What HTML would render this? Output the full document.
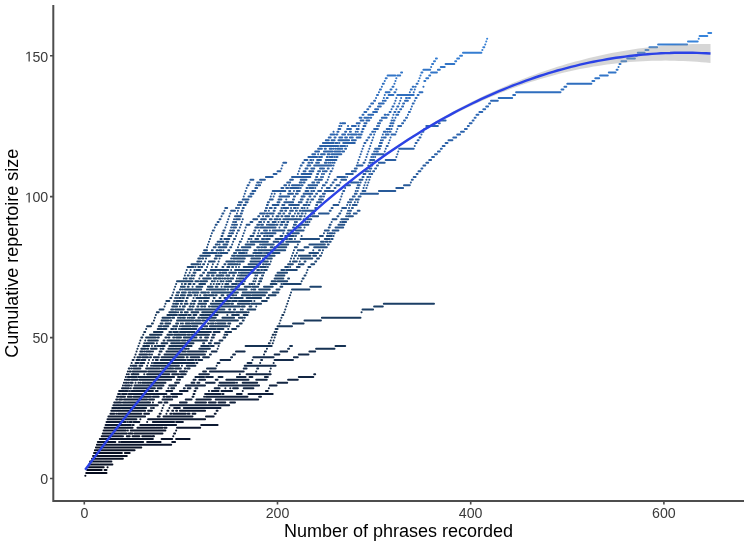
<!DOCTYPE html>
<html><head><meta charset="utf-8"><style>
html,body{margin:0;padding:0;background:#fff;}
svg{display:block;filter:blur(0.45px);}
text{font-family:"Liberation Sans",sans-serif;}
</style></head><body>
<svg width="749" height="544" viewBox="0 0 749 544">
<rect width="749" height="544" fill="#fff"/>
<g fill="none" stroke-width="2.0" stroke-linecap="round">
<path stroke="#060c1e" d="M85.3 475.7h0.1M86.2 472.9h0.1M87.2 470.0h1.0M89.1 467.2h0.1M85.3 475.7h0.1M86.2 472.9h0.1M87.2 470.0h1.9M90.1 467.2h0.1M85.3 475.7h0.1M86.2 472.9h1.0M88.2 470.0h0.1M89.1 467.2h0.1M85.3 475.7h0.1M86.2 472.9h1.9M89.1 470.0h0.1M90.1 467.2h1.0M85.3 475.7h0.1M86.2 472.9h0.1M87.2 470.0h1.0M89.1 467.2h1.0M85.3 475.7h0.1M86.2 472.9h1.0M88.2 470.0h1.9M91.1 467.2h0.1M85.3 475.7h0.1M86.2 472.9h1.0M88.2 470.0h0.1M89.1 467.2h1.0M85.3 475.7h0.1M86.2 472.9h11.6M98.8 470.0h1.0M100.7 467.2h1.0M85.3 475.7h0.1M86.2 472.9h1.0M88.2 470.0h1.0M90.1 467.2h4.8M85.3 475.7h0.1M86.2 472.9h7.7M94.9 470.0h3.9M99.8 467.2h1.0M85.3 475.7h0.1M86.2 472.9h1.0M88.2 470.0h1.0M90.1 467.2h2.9M85.3 475.7h0.1M86.2 472.9h1.0M88.2 470.0h5.8M94.9 467.2h0.1M85.3 475.7h0.1M86.2 472.9h20.3M85.3 475.7h0.1M86.2 472.9h1.9M89.1 470.0h1.0M91.1 467.2h10.6M85.3 475.7h0.1M86.2 472.9h2.9M90.1 470.0h0.1M91.1 467.2h5.8M85.3 475.7h0.1M86.2 472.9h2.9M90.1 470.0h3.9M94.9 467.2h0.1M85.3 475.7h0.1M86.2 472.9h1.0M88.2 470.0h2.9M92.0 467.2h1.9M85.3 475.7h0.1M86.2 472.9h4.8M92.0 470.0h0.1M93.0 467.2h0.1M85.3 475.7h0.1M86.2 472.9h4.8M92.0 470.0h0.1M93.0 467.2h7.7M85.3 475.7h0.1M86.2 472.9h2.9M90.1 470.0h0.1M91.1 467.2h1.0M85.3 475.7h0.1M86.2 472.9h1.0M88.2 470.0h0.1M89.1 467.2h0.1M85.3 475.7h0.1M86.2 472.9h1.9M89.1 470.0h0.1M90.1 467.2h0.1M85.3 475.7h0.1M86.2 472.9h1.0M88.2 470.0h1.0M90.1 467.2h0.1M85.3 475.7h0.1M86.2 472.9h3.9M91.1 470.0h0.1M92.0 467.2h0.1M85.3 475.7h0.1M86.2 472.9h6.8M94.0 470.0h1.0M95.9 467.2h2.9M85.3 475.7h0.1M86.2 472.9h1.9M89.1 470.0h0.1M90.1 467.2h1.0M85.3 475.7h0.1M86.2 472.9h12.6M99.8 470.0h1.9M102.7 467.2h1.0M85.3 475.7h0.1M86.2 472.9h2.9M90.1 470.0h0.1M91.1 467.2h0.1M85.3 475.7h0.1M86.2 472.9h1.0M88.2 470.0h0.1M89.1 467.2h0.1M85.3 475.7h0.1M86.2 472.9h1.0M88.2 470.0h0.1M89.1 467.2h0.1M85.3 475.7h0.1M86.2 472.9h1.0M88.2 470.0h0.1M89.1 467.2h0.1M85.3 475.7h0.1M86.2 472.9h1.9M89.1 470.0h1.0M91.1 467.2h0.1M85.3 475.7h0.1M86.2 472.9h1.0M88.2 470.0h0.1M89.1 467.2h0.1M85.3 475.7h0.1M86.2 472.9h1.9M89.1 470.0h0.1M90.1 467.2h0.1M85.3 475.7h0.1M86.2 472.9h6.8M94.0 470.0h1.0M95.9 467.2h1.0M85.3 475.7h0.1M86.2 472.9h1.0M88.2 470.0h0.1M89.1 467.2h0.1M85.3 475.7h0.1M86.2 472.9h1.0M88.2 470.0h0.1M89.1 467.2h0.1M85.3 475.7h0.1M86.2 472.9h1.0M88.2 470.0h1.9M91.1 467.2h1.0M85.3 475.7h0.1M86.2 472.9h3.9M91.1 470.0h0.1M92.0 467.2h2.9M85.3 475.7h0.1M86.2 472.9h5.8M93.0 470.0h0.1M94.0 467.2h0.1M85.3 475.7h0.1M86.2 472.9h1.0M88.2 470.0h1.9M91.1 467.2h0.1M85.3 475.7h0.1M86.2 472.9h1.0M88.2 470.0h0.1M89.1 467.2h0.1M85.3 475.7h0.1M86.2 472.9h1.0M88.2 470.0h0.1M89.1 467.2h1.9M85.3 475.7h0.1M86.2 472.9h6.8M94.0 470.0h0.1M94.9 467.2h0.1M85.3 475.7h0.1M86.2 472.9h1.0M88.2 470.0h0.1M89.1 467.2h0.1M85.3 475.7h0.1M86.2 472.9h1.0M88.2 470.0h0.1M89.1 467.2h1.9M85.3 475.7h0.1M86.2 472.9h1.0M88.2 470.0h0.1M89.1 467.2h0.1M85.3 475.7h0.1M86.2 472.9h1.9M89.1 470.0h0.1M90.1 467.2h1.9M85.3 475.7h0.1M86.2 472.9h0.1M87.2 470.0h0.1M88.2 467.2h0.1M85.3 475.7h0.1M86.2 472.9h1.0M88.2 470.0h1.0M90.1 467.2h0.1M85.3 475.7h0.1M86.2 472.9h0.1M87.2 470.0h0.1M88.2 467.2h0.1M85.3 475.7h0.1M86.2 472.9h1.0M88.2 470.0h1.0M90.1 467.2h1.0M85.3 475.7h0.1M86.2 472.9h17.4M104.6 470.0h1.9M107.5 467.2h0.1M85.3 475.7h0.1M86.2 472.9h13.5M100.7 470.0h0.1M101.7 467.2h1.9M85.3 475.7h0.1M86.2 472.9h0.1M87.2 470.0h0.1M88.2 467.2h0.1M85.3 475.7h0.1M86.2 472.9h4.8M92.0 470.0h4.8M97.8 467.2h3.9M85.3 475.7h0.1M86.2 472.9h4.8M92.0 470.0h0.1M93.0 467.2h1.0M85.3 475.7h0.1M86.2 472.9h3.9M91.1 470.0h9.7M101.7 467.2h0.1M85.3 475.7h0.1M86.2 472.9h2.9M90.1 470.0h1.0M92.0 467.2h0.1M85.3 475.7h0.1M86.2 472.9h6.8M94.0 470.0h0.1M94.9 467.2h1.9M85.3 475.7h0.1M86.2 472.9h1.0M88.2 470.0h1.0M90.1 467.2h0.1M85.3 475.7h0.1M86.2 472.9h2.9M90.1 470.0h0.1M91.1 467.2h1.9M85.3 475.7h0.1M86.2 472.9h1.0M88.2 470.0h0.1M89.1 467.2h0.1M85.3 475.7h0.1M86.2 472.9h1.0M88.2 470.0h0.1M89.1 467.2h0.1M85.3 475.7h0.1M86.2 472.9h7.7M94.9 470.0h1.0M96.9 467.2h0.1M85.3 475.7h0.1M86.2 472.9h1.0M88.2 470.0h0.1M89.1 467.2h0.1M85.3 475.7h0.1M86.2 472.9h1.0M88.2 470.0h1.9M91.1 467.2h0.1M85.3 475.7h0.1M86.2 472.9h1.0M88.2 470.0h0.1M89.1 467.2h0.1M85.3 475.7h0.1M86.2 472.9h2.9M90.1 470.0h1.0M92.0 467.2h0.1M85.3 475.7h0.1M86.2 472.9h1.9M89.1 470.0h0.1M90.1 467.2h0.1M85.3 475.7h0.1M86.2 472.9h1.9M89.1 470.0h0.1M90.1 467.2h0.1M85.3 475.7h0.1M86.2 472.9h3.9M91.1 470.0h3.9M95.9 467.2h0.1M85.3 475.7h0.1M86.2 472.9h1.0M88.2 470.0h1.0M90.1 467.2h0.1M85.3 475.7h0.1M86.2 472.9h2.9M90.1 470.0h0.1M91.1 467.2h0.1M85.3 475.7h0.1M86.2 472.9h1.9M89.1 470.0h1.0M91.1 467.2h0.1"/>
<path stroke="#081125" d="M90.1 464.4h1.0M92.0 461.6h1.0M94.0 458.8h1.0M95.9 455.9h1.0M97.8 453.1h1.9M100.7 450.3h1.9M103.6 447.5h0.1M91.1 464.4h2.9M94.9 461.6h1.9M97.8 458.8h2.9M101.7 455.9h0.1M102.7 453.1h0.1M103.6 450.3h0.1M104.6 447.5h0.1M90.1 464.4h1.9M93.0 461.6h0.1M94.0 458.8h0.1M94.9 455.9h1.0M96.9 453.1h1.0M98.8 450.3h2.9M102.7 447.5h1.0M92.0 464.4h0.1M93.0 461.6h5.8M99.8 458.8h1.9M102.7 455.9h0.1M103.6 453.1h1.0M105.6 450.3h0.1M106.5 447.5h1.9M91.1 464.4h0.1M92.0 461.6h1.0M94.0 458.8h1.9M96.9 455.9h1.0M98.8 453.1h0.1M99.8 450.3h1.0M101.7 447.5h1.0M92.0 464.4h1.9M94.9 461.6h1.9M97.8 458.8h2.9M101.7 455.9h2.9M105.6 453.1h3.9M110.4 450.3h2.9M114.2 447.5h2.9M91.1 464.4h1.0M93.0 461.6h3.9M97.8 458.8h0.1M98.8 455.9h1.0M100.7 453.1h3.9M105.6 450.3h2.9M109.4 447.5h0.1M102.7 464.4h1.0M104.6 461.6h0.1M105.6 458.8h1.9M108.4 455.9h0.1M109.4 453.1h4.8M115.2 450.3h0.1M116.2 447.5h5.8M95.9 464.4h0.1M96.9 461.6h1.0M98.8 458.8h9.7M109.4 455.9h0.1M110.4 453.1h1.0M112.3 450.3h2.9M116.2 447.5h4.8M101.7 464.4h0.1M102.7 461.6h1.0M104.6 458.8h4.8M110.4 455.9h1.0M112.3 453.1h2.9M116.2 450.3h1.0M118.1 447.5h8.7M94.0 464.4h1.9M96.9 461.6h1.0M98.8 458.8h7.7M107.5 455.9h0.1M108.4 453.1h0.1M109.4 450.3h3.9M114.2 447.5h1.9M95.9 464.4h1.0M97.8 461.6h3.9M102.7 458.8h4.8M108.4 455.9h15.5M124.9 453.1h4.8M130.7 450.3h0.1M131.6 447.5h6.8M102.7 464.4h9.7M97.8 464.4h0.1M98.8 461.6h0.1M99.8 458.8h19.3M120.0 455.9h6.8M95.9 464.4h0.1M96.9 461.6h1.0M98.8 458.8h1.9M101.7 455.9h1.9M104.6 453.1h16.4M122.0 450.3h12.6M94.9 464.4h2.9M98.8 461.6h1.9M101.7 458.8h1.0M103.6 455.9h0.1M104.6 453.1h11.6M117.1 450.3h0.1M118.1 447.5h12.6M94.0 464.4h1.9M96.9 461.6h2.9M100.7 458.8h4.8M106.5 455.9h1.0M108.4 453.1h9.7M119.1 450.3h15.5M135.5 447.5h5.8M101.7 464.4h1.0M103.6 461.6h0.1M104.6 458.8h1.0M106.5 455.9h2.9M110.4 453.1h0.1M111.3 450.3h1.9M114.2 447.5h4.8M93.0 464.4h1.0M94.9 461.6h0.1M95.9 458.8h0.1M96.9 455.9h0.1M97.8 453.1h0.1M98.8 450.3h0.1M99.8 447.5h3.9M90.1 464.4h0.1M91.1 461.6h1.0M93.0 458.8h0.1M94.0 455.9h4.8M99.8 453.1h0.1M100.7 450.3h0.1M101.7 447.5h1.0M91.1 464.4h0.1M92.0 461.6h0.1M93.0 458.8h0.1M94.0 455.9h0.1M94.9 453.1h1.0M96.9 450.3h2.9M100.7 447.5h1.9M91.1 464.4h0.1M92.0 461.6h0.1M93.0 458.8h0.1M94.0 455.9h0.1M94.9 453.1h3.9M99.8 450.3h0.1M100.7 447.5h1.9M93.0 464.4h0.1M94.0 461.6h1.0M95.9 458.8h1.0M97.8 455.9h0.1M98.8 453.1h0.1M99.8 450.3h0.1M100.7 447.5h0.1M99.8 464.4h1.9M102.7 461.6h1.0M104.6 458.8h0.1M105.6 455.9h1.0M107.5 453.1h0.1M108.4 450.3h0.1M109.4 447.5h1.0M92.0 464.4h1.9M94.9 461.6h1.0M96.9 458.8h0.1M97.8 455.9h13.5M112.3 453.1h1.9M115.2 450.3h2.9M119.1 447.5h0.1M104.6 464.4h0.1M105.6 461.6h0.1M106.5 458.8h1.9M109.4 455.9h7.7M118.1 453.1h1.9M121.0 450.3h1.9M123.9 447.5h1.0M92.0 464.4h1.0M94.0 461.6h3.9M98.8 458.8h1.0M100.7 455.9h1.0M102.7 453.1h0.1M103.6 450.3h0.1M104.6 447.5h0.1M90.1 464.4h0.1M91.1 461.6h0.1M92.0 458.8h0.1M93.0 455.9h0.1M94.0 453.1h0.1M94.9 450.3h0.1M95.9 447.5h0.1M90.1 464.4h0.1M91.1 461.6h0.1M92.0 458.8h0.1M93.0 455.9h0.1M94.0 453.1h0.1M94.9 450.3h0.1M95.9 447.5h0.1M90.1 464.4h0.1M91.1 461.6h0.1M92.0 458.8h0.1M93.0 455.9h0.1M94.0 453.1h0.1M94.9 450.3h0.1M95.9 447.5h0.1M92.0 464.4h1.0M94.0 461.6h0.1M94.9 458.8h0.1M95.9 455.9h0.1M96.9 453.1h0.1M97.8 450.3h0.1M98.8 447.5h0.1M90.1 464.4h0.1M91.1 461.6h0.1M92.0 458.8h0.1M93.0 455.9h0.1M94.0 453.1h0.1M94.9 450.3h0.1M95.9 447.5h1.9M91.1 464.4h0.1M92.0 461.6h0.1M93.0 458.8h0.1M94.0 455.9h0.1M94.9 453.1h0.1M95.9 450.3h0.1M96.9 447.5h0.1M97.8 464.4h0.1M98.8 461.6h1.0M100.7 458.8h2.9M104.6 455.9h0.1M105.6 453.1h0.1M106.5 450.3h0.1M107.5 447.5h0.1M90.1 464.4h0.1M91.1 461.6h0.1M92.0 458.8h0.1M93.0 455.9h1.9M95.9 453.1h0.1M96.9 450.3h0.1M97.8 447.5h0.1M90.1 464.4h0.1M91.1 461.6h0.1M92.0 458.8h1.0M94.0 455.9h0.1M94.9 453.1h0.1M95.9 450.3h1.0M97.8 447.5h1.9M93.0 464.4h0.1M94.0 461.6h5.8M100.7 458.8h0.1M101.7 455.9h1.9M104.6 453.1h1.0M106.5 450.3h1.0M108.4 447.5h1.0M95.9 464.4h1.0M97.8 461.6h0.1M98.8 458.8h0.1M99.8 455.9h1.9M102.7 453.1h1.0M104.6 450.3h0.1M105.6 447.5h1.0M94.9 464.4h0.1M95.9 461.6h0.1M96.9 458.8h0.1M97.8 455.9h0.1M98.8 453.1h0.1M99.8 450.3h0.1M100.7 447.5h1.0M92.0 464.4h1.0M94.0 461.6h0.1M94.9 458.8h0.1M95.9 455.9h0.1M96.9 453.1h0.1M97.8 450.3h3.9M102.7 447.5h0.1M90.1 464.4h0.1M91.1 461.6h0.1M92.0 458.8h0.1M93.0 455.9h0.1M94.0 453.1h1.0M95.9 450.3h0.1M96.9 447.5h0.1M92.0 464.4h1.0M94.0 461.6h0.1M94.9 458.8h0.1M95.9 455.9h0.1M96.9 453.1h0.1M97.8 450.3h0.1M98.8 447.5h0.1M95.9 464.4h1.0M97.8 461.6h1.0M99.8 458.8h0.1M100.7 455.9h5.8M107.5 453.1h1.9M110.4 450.3h1.0M112.3 447.5h1.0M90.1 464.4h0.1M91.1 461.6h0.1M92.0 458.8h0.1M93.0 455.9h0.1M94.0 453.1h0.1M94.9 450.3h0.1M95.9 447.5h4.8M92.0 464.4h0.1M93.0 461.6h0.1M94.0 458.8h5.8M100.7 455.9h2.9M104.6 453.1h0.1M105.6 450.3h0.1M106.5 447.5h1.0M90.1 464.4h1.0M92.0 461.6h0.1M93.0 458.8h0.1M94.0 455.9h0.1M94.9 453.1h0.1M95.9 450.3h0.1M96.9 447.5h0.1M93.0 464.4h0.1M94.0 461.6h1.9M96.9 458.8h0.1M97.8 455.9h1.0M99.8 453.1h0.1M100.7 450.3h1.0M102.7 447.5h1.9M89.1 464.4h1.0M91.1 461.6h6.8M98.8 458.8h1.0M100.7 455.9h0.1M101.7 453.1h0.1M102.7 450.3h1.9M105.6 447.5h7.7M91.1 464.4h0.1M92.0 461.6h1.9M94.9 458.8h6.8M102.7 455.9h1.0M104.6 453.1h13.5M119.1 450.3h2.9M122.9 447.5h0.1M89.1 464.4h0.1M90.1 461.6h1.0M92.0 458.8h12.6M105.6 455.9h0.1M106.5 453.1h1.9M109.4 450.3h9.7M120.0 447.5h1.9M92.0 464.4h0.1M93.0 461.6h0.1M94.0 458.8h0.1M94.9 455.9h1.9M97.8 453.1h1.9M100.7 450.3h11.6M113.3 447.5h9.7M108.4 464.4h0.1M109.4 461.6h1.0M111.3 458.8h11.6M123.9 455.9h2.9M127.8 453.1h1.0M129.7 450.3h2.9M133.6 447.5h1.0M104.6 464.4h3.9M109.4 461.6h1.0M111.3 458.8h0.1M112.3 455.9h6.8M120.0 453.1h1.9M122.9 450.3h0.1M123.9 447.5h0.1M89.1 464.4h1.0M91.1 461.6h5.8M97.8 458.8h0.1M98.8 455.9h0.1M99.8 453.1h4.8M105.6 450.3h6.8M113.3 447.5h0.1M102.7 464.4h2.9M106.5 461.6h2.9M110.4 458.8h0.1M111.3 455.9h1.0M113.3 453.1h6.8M121.0 450.3h5.8M127.8 447.5h1.0M94.9 464.4h0.1M95.9 461.6h0.1M96.9 458.8h0.1M97.8 455.9h0.1M98.8 453.1h14.5M114.2 450.3h2.9M118.1 447.5h1.0M102.7 464.4h1.0M104.6 461.6h6.8M112.3 458.8h10.6M123.9 455.9h0.1M124.9 453.1h1.0M126.8 450.3h1.9M129.7 447.5h7.7M93.0 464.4h0.1M94.0 461.6h1.0M95.9 458.8h2.9M99.8 455.9h1.0M101.7 453.1h1.9M104.6 450.3h3.9M109.4 447.5h3.9M97.8 464.4h1.0M99.8 461.6h0.1M100.7 458.8h4.8M106.5 455.9h0.1M107.5 453.1h0.1M108.4 450.3h0.1M109.4 447.5h0.1M91.1 464.4h0.1M92.0 461.6h0.1M93.0 458.8h0.1M94.0 455.9h0.1M94.9 453.1h1.0M96.9 450.3h0.1M97.8 447.5h0.1M94.0 464.4h0.1M94.9 461.6h0.1M95.9 458.8h0.1M96.9 455.9h0.1M97.8 453.1h0.1M98.8 450.3h1.0M100.7 447.5h1.0M90.1 464.4h1.0M92.0 461.6h0.1M93.0 458.8h0.1M94.0 455.9h0.1M94.9 453.1h0.1M95.9 450.3h1.0M97.8 447.5h1.0M90.1 464.4h0.1M91.1 461.6h2.9M94.9 458.8h0.1M95.9 455.9h1.0M97.8 453.1h1.0M99.8 450.3h0.1M100.7 447.5h1.0M97.8 464.4h0.1M98.8 461.6h0.1M99.8 458.8h0.1M100.7 455.9h0.1M101.7 453.1h1.0M103.6 450.3h0.1M104.6 447.5h1.9M90.1 464.4h0.1M91.1 461.6h0.1M92.0 458.8h0.1M93.0 455.9h1.9M95.9 453.1h0.1M96.9 450.3h0.1M97.8 447.5h0.1M92.0 464.4h0.1M93.0 461.6h0.1M94.0 458.8h0.1M94.9 455.9h0.1M95.9 453.1h0.1M96.9 450.3h0.1M97.8 447.5h0.1M90.1 464.4h0.1M91.1 461.6h0.1M92.0 458.8h0.1M93.0 455.9h0.1M94.0 453.1h1.0M95.9 450.3h0.1M96.9 447.5h1.9M93.0 464.4h1.9M95.9 461.6h1.0M97.8 458.8h2.9M101.7 455.9h0.1M102.7 453.1h0.1M103.6 450.3h0.1M104.6 447.5h0.1M91.1 464.4h0.1M92.0 461.6h0.1M93.0 458.8h0.1M94.0 455.9h0.1M94.9 453.1h0.1M95.9 450.3h1.9M98.8 447.5h0.1M91.1 464.4h0.1M92.0 461.6h0.1M93.0 458.8h0.1M94.0 455.9h0.1M94.9 453.1h0.1M95.9 450.3h1.0M97.8 447.5h0.1M96.9 464.4h0.1M97.8 461.6h0.1M98.8 458.8h0.1M99.8 455.9h0.1M100.7 453.1h0.1M101.7 450.3h1.9M104.6 447.5h0.1M91.1 464.4h0.1M92.0 461.6h1.0M94.0 458.8h1.0M95.9 455.9h0.1M96.9 453.1h1.0M98.8 450.3h1.9M101.7 447.5h1.9M92.0 464.4h0.1M93.0 461.6h0.1M94.0 458.8h0.1M94.9 455.9h0.1M95.9 453.1h0.1M96.9 450.3h0.1M97.8 447.5h1.0M92.0 464.4h0.1M93.0 461.6h0.1M94.0 458.8h0.1M94.9 455.9h1.0M96.9 453.1h1.9M99.8 450.3h0.1M100.7 447.5h0.1"/>
<path stroke="#0b152c" d="M104.6 444.7h1.0M106.5 441.9h1.0M108.4 439.0h1.9M111.3 436.2h1.0M113.3 433.4h1.0M115.2 430.6h2.9M119.1 427.8h1.0M105.6 444.7h0.1M106.5 441.9h1.0M108.4 439.0h0.1M109.4 436.2h0.1M110.4 433.4h1.0M112.3 430.6h1.0M114.2 427.8h1.0M104.6 444.7h0.1M105.6 441.9h0.1M106.5 439.0h1.0M108.4 436.2h1.0M110.4 433.4h1.0M112.3 430.6h0.1M113.3 427.8h1.0M109.4 444.7h0.1M110.4 441.9h0.1M111.3 439.0h0.1M112.3 436.2h0.1M113.3 433.4h0.1M114.2 430.6h0.1M115.2 427.8h0.1M103.6 444.7h1.0M105.6 441.9h1.0M107.5 439.0h1.9M110.4 436.2h1.0M112.3 433.4h1.0M114.2 430.6h1.9M117.1 427.8h1.0M118.1 444.7h2.9M122.0 441.9h2.9M125.8 439.0h17.4M144.2 436.2h1.9M147.1 433.4h9.7M157.7 430.6h5.8M164.5 427.8h1.0M110.4 444.7h0.1M111.3 441.9h1.9M114.2 439.0h2.9M118.1 436.2h1.9M121.0 433.4h5.8M127.8 430.6h0.1M128.7 427.8h3.9M122.9 444.7h1.0M124.9 441.9h1.0M126.8 439.0h4.8M132.6 436.2h5.8M139.4 433.4h15.5M155.8 430.6h0.1M156.8 427.8h1.9M122.0 444.7h0.1M122.9 441.9h4.8M128.7 439.0h4.8M134.5 436.2h4.8M140.3 433.4h2.9M144.2 430.6h8.7M153.9 427.8h0.1M127.8 444.7h0.1M128.7 441.9h4.8M134.5 439.0h6.8M142.3 436.2h0.1M143.2 433.4h0.1M144.2 430.6h0.1M145.2 427.8h4.8M117.1 444.7h3.9M122.0 441.9h2.9M125.8 439.0h6.8M133.6 436.2h0.1M134.5 433.4h3.9M139.4 430.6h12.6M152.9 427.8h0.1M139.4 444.7h12.6M152.9 441.9h7.7M161.6 439.0h10.6M173.2 436.2h0.1M174.1 433.4h1.0M176.1 430.6h0.1M177.0 427.8h23.2M131.6 444.7h17.4M142.3 444.7h3.9M147.1 441.9h8.7M120.0 444.7h51.2M172.2 441.9h2.9M176.1 439.0h13.5M104.6 444.7h2.9M108.4 441.9h1.0M110.4 439.0h0.1M111.3 436.2h0.1M112.3 433.4h0.1M113.3 430.6h1.0M115.2 427.8h8.7M103.6 444.7h0.1M104.6 441.9h0.1M105.6 439.0h1.0M107.5 436.2h1.0M109.4 433.4h1.9M112.3 430.6h1.9M115.2 427.8h1.9M103.6 444.7h0.1M104.6 441.9h1.0M106.5 439.0h0.1M107.5 436.2h1.0M109.4 433.4h1.0M111.3 430.6h0.1M112.3 427.8h0.1M103.6 444.7h3.9M108.4 441.9h1.9M111.3 439.0h0.1M112.3 436.2h1.0M114.2 433.4h0.1M115.2 430.6h0.1M116.2 427.8h1.0M101.7 444.7h0.1M102.7 441.9h1.9M105.6 439.0h3.9M110.4 436.2h1.9M113.3 433.4h0.1M114.2 430.6h1.9M117.1 427.8h1.0M111.3 444.7h0.1M112.3 441.9h0.1M113.3 439.0h0.1M114.2 436.2h1.0M116.2 433.4h0.1M117.1 430.6h0.1M118.1 427.8h0.1M120.0 444.7h0.1M121.0 441.9h0.1M122.0 439.0h0.1M122.9 436.2h0.1M123.9 433.4h0.1M124.9 430.6h1.0M126.8 427.8h1.9M125.8 444.7h0.1M126.8 441.9h0.1M127.8 439.0h0.1M128.7 436.2h0.1M129.7 433.4h0.1M130.7 430.6h0.1M131.6 427.8h0.1M105.6 444.7h0.1M106.5 441.9h1.0M108.4 439.0h0.1M109.4 436.2h0.1M110.4 433.4h0.1M111.3 430.6h0.1M112.3 427.8h1.9M96.9 444.7h1.9M99.8 441.9h0.1M100.7 439.0h0.1M101.7 436.2h0.1M102.7 433.4h0.1M103.6 430.6h0.1M104.6 427.8h0.1M96.9 444.7h0.1M97.8 441.9h2.9M101.7 439.0h0.1M102.7 436.2h1.0M104.6 433.4h2.9M108.4 430.6h0.1M109.4 427.8h0.1M96.9 444.7h1.0M98.8 441.9h1.0M100.7 439.0h0.1M101.7 436.2h1.0M103.6 433.4h1.9M106.5 430.6h3.9M111.3 427.8h6.8M99.8 444.7h0.1M100.7 441.9h0.1M101.7 439.0h0.1M102.7 436.2h0.1M103.6 433.4h0.1M104.6 430.6h0.1M105.6 427.8h0.1M98.8 444.7h0.1M99.8 441.9h1.9M102.7 439.0h0.1M103.6 436.2h0.1M104.6 433.4h7.7M113.3 430.6h2.9M117.1 427.8h3.9M97.8 444.7h0.1M98.8 441.9h0.1M99.8 439.0h1.0M101.7 436.2h1.0M103.6 433.4h0.1M104.6 430.6h1.9M107.5 427.8h1.9M108.4 444.7h0.1M109.4 441.9h2.9M113.3 439.0h0.1M114.2 436.2h0.1M115.2 433.4h1.0M117.1 430.6h2.9M121.0 427.8h0.1M98.8 444.7h0.1M99.8 441.9h0.1M100.7 439.0h0.1M101.7 436.2h0.1M102.7 433.4h0.1M103.6 430.6h0.1M104.6 427.8h0.1M100.7 444.7h0.1M101.7 441.9h0.1M102.7 439.0h0.1M103.6 436.2h0.1M104.6 433.4h0.1M105.6 430.6h0.1M106.5 427.8h0.1M110.4 444.7h2.9M114.2 441.9h1.0M116.2 439.0h0.1M117.1 436.2h0.1M118.1 433.4h1.0M120.0 430.6h1.9M122.9 427.8h0.1M107.5 444.7h0.1M108.4 441.9h0.1M109.4 439.0h0.1M110.4 436.2h0.1M111.3 433.4h0.1M112.3 430.6h0.1M113.3 427.8h0.1M102.7 444.7h1.0M104.6 441.9h0.1M105.6 439.0h0.1M106.5 436.2h1.0M108.4 433.4h0.1M109.4 430.6h1.0M111.3 427.8h0.1M103.6 444.7h0.1M104.6 441.9h0.1M105.6 439.0h0.1M106.5 436.2h0.1M107.5 433.4h1.0M109.4 430.6h0.1M110.4 427.8h0.1M97.8 444.7h0.1M98.8 441.9h0.1M99.8 439.0h1.0M101.7 436.2h1.9M104.6 433.4h0.1M105.6 430.6h0.1M106.5 427.8h1.9M99.8 444.7h0.1M100.7 441.9h1.0M102.7 439.0h0.1M103.6 436.2h1.0M105.6 433.4h1.0M107.5 430.6h0.1M108.4 427.8h1.0M114.2 444.7h0.1M115.2 441.9h0.1M116.2 439.0h0.1M117.1 436.2h3.9M122.0 433.4h0.1M122.9 430.6h0.1M123.9 427.8h0.1M101.7 444.7h0.1M102.7 441.9h0.1M103.6 439.0h0.1M104.6 436.2h1.0M106.5 433.4h0.1M107.5 430.6h0.1M108.4 427.8h0.1M108.4 444.7h3.9M113.3 441.9h0.1M114.2 439.0h0.1M115.2 436.2h1.0M117.1 433.4h0.1M118.1 430.6h1.0M120.0 427.8h0.1M97.8 444.7h0.1M98.8 441.9h0.1M99.8 439.0h1.0M101.7 436.2h1.0M103.6 433.4h1.0M105.6 430.6h1.0M107.5 427.8h0.1M105.6 444.7h1.0M107.5 441.9h1.0M109.4 439.0h0.1M110.4 436.2h0.1M111.3 433.4h0.1M112.3 430.6h0.1M113.3 427.8h0.1M114.2 444.7h6.8M122.0 441.9h4.8M127.8 439.0h17.4M146.1 436.2h1.9M149.0 433.4h3.9M153.9 430.6h1.0M155.8 427.8h1.0M123.9 444.7h0.1M124.9 441.9h0.1M125.8 439.0h0.1M126.8 436.2h2.9M130.7 433.4h1.9M133.6 430.6h17.4M151.9 427.8h1.0M122.9 444.7h0.1M123.9 441.9h0.1M124.9 439.0h1.0M126.8 436.2h1.0M128.7 433.4h1.9M131.6 430.6h4.8M137.4 427.8h1.9M123.9 444.7h3.9M128.7 441.9h1.9M131.6 439.0h1.0M133.6 436.2h3.9M138.4 433.4h1.0M140.3 430.6h8.7M150.0 427.8h1.0M135.5 444.7h0.1M136.5 441.9h5.8M143.2 439.0h9.7M153.9 436.2h0.1M154.8 433.4h7.7M163.5 430.6h1.9M166.4 427.8h0.1M124.9 444.7h3.9M129.7 441.9h1.0M131.6 439.0h0.1M132.6 436.2h2.9M136.5 433.4h1.9M139.4 430.6h0.1M140.3 427.8h0.1M114.2 444.7h3.9M119.1 441.9h0.1M120.0 439.0h22.2M143.2 436.2h7.7M151.9 433.4h2.9M155.8 430.6h0.1M156.8 427.8h5.8M129.7 444.7h1.0M131.6 441.9h0.1M132.6 439.0h1.9M135.5 436.2h0.1M136.5 433.4h3.9M141.3 430.6h1.0M143.2 427.8h1.9M120.0 444.7h0.1M121.0 441.9h1.0M122.9 439.0h11.6M135.5 436.2h1.9M138.4 433.4h0.1M139.4 430.6h0.1M140.3 427.8h14.5M138.4 444.7h7.7M147.1 441.9h1.9M150.0 439.0h1.0M151.9 436.2h1.9M154.8 433.4h0.1M155.8 430.6h0.1M156.8 427.8h1.0M114.2 444.7h5.8M121.0 441.9h22.2M144.2 439.0h1.9M147.1 436.2h1.9M150.0 433.4h0.1M151.0 430.6h5.8M157.7 427.8h1.9M110.4 444.7h0.1M111.3 441.9h1.0M113.3 439.0h5.8M120.0 436.2h1.9M122.9 433.4h0.1M123.9 430.6h0.1M124.9 427.8h1.0M98.8 444.7h0.1M99.8 441.9h0.1M100.7 439.0h1.0M102.7 436.2h1.0M104.6 433.4h0.1M105.6 430.6h0.1M106.5 427.8h0.1M102.7 444.7h0.1M103.6 441.9h0.1M104.6 439.0h0.1M105.6 436.2h4.8M111.3 433.4h0.1M112.3 430.6h8.7M122.0 427.8h0.1M99.8 444.7h1.9M102.7 441.9h3.9M107.5 439.0h0.1M108.4 436.2h0.1M109.4 433.4h1.0M111.3 430.6h1.0M113.3 427.8h1.0M102.7 444.7h5.8M109.4 441.9h1.0M111.3 439.0h0.1M112.3 436.2h0.1M113.3 433.4h0.1M114.2 430.6h1.9M117.1 427.8h1.0M107.5 444.7h2.9M111.3 441.9h0.1M112.3 439.0h1.9M115.2 436.2h4.8M121.0 433.4h1.0M122.9 430.6h0.1M123.9 427.8h1.0M98.8 444.7h0.1M99.8 441.9h0.1M100.7 439.0h0.1M101.7 436.2h0.1M102.7 433.4h0.1M103.6 430.6h0.1M104.6 427.8h0.1M98.8 444.7h1.0M100.7 441.9h1.0M102.7 439.0h1.0M104.6 436.2h5.8M111.3 433.4h0.1M112.3 430.6h0.1M113.3 427.8h0.1M99.8 444.7h7.7M108.4 441.9h1.0M110.4 439.0h0.1M111.3 436.2h0.1M112.3 433.4h0.1M113.3 430.6h2.9M117.1 427.8h1.0M105.6 444.7h1.9M108.4 441.9h5.8M115.2 439.0h0.1M116.2 436.2h2.9M120.0 433.4h0.1M121.0 430.6h2.9M124.9 427.8h1.0M99.8 444.7h1.0M101.7 441.9h1.0M103.6 439.0h0.1M104.6 436.2h0.1M105.6 433.4h0.1M106.5 430.6h0.1M107.5 427.8h1.0M98.8 444.7h0.1M99.8 441.9h0.1M100.7 439.0h2.9M104.6 436.2h1.0M106.5 433.4h0.1M107.5 430.6h0.1M108.4 427.8h0.1M105.6 444.7h0.1M106.5 441.9h0.1M107.5 439.0h0.1M108.4 436.2h0.1M109.4 433.4h0.1M110.4 430.6h0.1M111.3 427.8h1.9M104.6 444.7h4.8M110.4 441.9h0.1M111.3 439.0h1.0M113.3 436.2h0.1M114.2 433.4h1.0M116.2 430.6h0.1M117.1 427.8h0.1M99.8 444.7h1.0M101.7 441.9h0.1M102.7 439.0h1.0M104.6 436.2h0.1M105.6 433.4h0.1M106.5 430.6h0.1M107.5 427.8h1.0M101.7 444.7h0.1M102.7 441.9h0.1M103.6 439.0h0.1M104.6 436.2h1.9M107.5 433.4h0.1M108.4 430.6h0.1M109.4 427.8h0.1"/>
<path stroke="#0d1a33" d="M121.0 424.9h1.0M122.9 422.1h1.9M125.8 419.3h3.9M130.7 416.5h0.1M131.6 413.7h0.1M132.6 410.8h1.9M116.2 424.9h1.9M119.1 422.1h1.0M121.0 419.3h1.0M122.9 416.5h1.0M124.9 413.7h3.9M129.7 410.8h1.0M115.2 424.9h1.9M118.1 422.1h1.0M120.0 419.3h1.0M122.0 416.5h2.9M125.8 413.7h0.1M126.8 410.8h2.9M116.2 424.9h0.1M117.1 422.1h1.0M119.1 419.3h1.9M122.0 416.5h3.9M126.8 413.7h1.9M129.7 410.8h0.1M119.1 424.9h1.0M121.0 422.1h2.9M124.9 419.3h0.1M125.8 416.5h1.9M128.7 413.7h1.0M130.7 410.8h4.8M166.4 424.9h3.9M171.2 422.1h2.9M175.1 419.3h0.1M176.1 416.5h6.8M183.8 413.7h1.0M185.7 410.8h3.9M133.6 424.9h0.1M134.5 422.1h4.8M140.3 419.3h0.1M141.3 416.5h1.9M144.2 413.7h4.8M150.0 410.8h1.9M159.6 424.9h2.9M163.5 422.1h1.9M166.4 419.3h4.8M172.2 416.5h8.7M181.9 413.7h1.0M183.8 410.8h2.9M154.8 424.9h4.8M160.6 422.1h9.7M171.2 419.3h3.9M176.1 416.5h15.5M192.5 413.7h2.9M196.4 410.8h6.8M151.0 424.9h1.0M152.9 422.1h15.5M169.3 419.3h1.9M172.2 416.5h0.1M173.2 413.7h1.9M176.1 410.8h1.0M153.9 424.9h0.1M154.8 422.1h8.7M164.5 419.3h3.9M169.3 416.5h5.8M176.1 413.7h7.7M184.8 410.8h1.9M201.2 424.9h16.4M124.9 424.9h5.8M131.6 422.1h0.1M132.6 419.3h0.1M133.6 416.5h1.0M135.5 413.7h0.1M136.5 410.8h8.7M118.1 424.9h0.1M119.1 422.1h6.8M126.8 419.3h2.9M130.7 416.5h5.8M137.4 413.7h1.9M140.3 410.8h1.0M113.3 424.9h0.1M114.2 422.1h0.1M115.2 419.3h1.0M117.1 416.5h0.1M118.1 413.7h0.1M119.1 410.8h1.9M118.1 424.9h0.1M119.1 422.1h2.9M122.9 419.3h0.1M123.9 416.5h1.0M125.8 413.7h0.1M126.8 410.8h0.1M119.1 424.9h0.1M120.0 422.1h3.9M124.9 419.3h9.7M135.5 416.5h0.1M136.5 413.7h0.1M137.4 410.8h0.1M119.1 424.9h0.1M120.0 422.1h4.8M125.8 419.3h5.8M132.6 416.5h0.1M133.6 413.7h3.9M138.4 410.8h1.9M129.7 424.9h0.1M130.7 422.1h0.1M131.6 419.3h0.1M132.6 416.5h1.0M134.5 413.7h0.1M135.5 410.8h0.1M132.6 424.9h0.1M133.6 422.1h0.1M134.5 419.3h1.9M137.4 416.5h7.7M146.1 413.7h1.0M148.1 410.8h1.9M115.2 424.9h0.1M116.2 422.1h0.1M117.1 419.3h2.9M121.0 416.5h0.1M122.0 413.7h1.0M123.9 410.8h1.0M105.6 424.9h0.1M106.5 422.1h0.1M107.5 419.3h0.1M108.4 416.5h1.0M110.4 413.7h0.1M111.3 410.8h0.1M110.4 424.9h0.1M111.3 422.1h0.1M112.3 419.3h0.1M113.3 416.5h0.1M114.2 413.7h0.1M115.2 410.8h1.0M119.1 424.9h1.0M121.0 422.1h1.9M123.9 419.3h1.0M125.8 416.5h0.1M126.8 413.7h0.1M127.8 410.8h1.0M106.5 424.9h0.1M107.5 422.1h0.1M108.4 419.3h0.1M109.4 416.5h0.1M110.4 413.7h0.1M111.3 410.8h0.1M122.0 424.9h1.0M123.9 422.1h1.0M125.8 419.3h0.1M126.8 416.5h0.1M127.8 413.7h0.1M128.7 410.8h0.1M110.4 424.9h0.1M111.3 422.1h0.1M112.3 419.3h1.9M115.2 416.5h0.1M116.2 413.7h0.1M117.1 410.8h0.1M122.0 424.9h0.1M122.9 422.1h0.1M123.9 419.3h0.1M124.9 416.5h0.1M125.8 413.7h0.1M126.8 410.8h1.0M105.6 424.9h0.1M106.5 422.1h0.1M107.5 419.3h0.1M108.4 416.5h1.0M110.4 413.7h0.1M111.3 410.8h0.1M107.5 424.9h0.1M108.4 422.1h1.0M110.4 419.3h0.1M111.3 416.5h1.0M113.3 413.7h1.0M115.2 410.8h0.1M123.9 424.9h0.1M124.9 422.1h0.1M125.8 419.3h0.1M126.8 416.5h0.1M127.8 413.7h0.1M128.7 410.8h0.1M114.2 424.9h0.1M115.2 422.1h0.1M116.2 419.3h0.1M117.1 416.5h0.1M118.1 413.7h0.1M119.1 410.8h0.1M112.3 424.9h0.1M113.3 422.1h0.1M114.2 419.3h0.1M115.2 416.5h0.1M116.2 413.7h0.1M117.1 410.8h1.0M111.3 424.9h2.9M115.2 422.1h1.0M117.1 419.3h0.1M118.1 416.5h0.1M119.1 413.7h0.1M120.0 410.8h1.0M109.4 424.9h2.9M113.3 422.1h3.9M118.1 419.3h0.1M119.1 416.5h1.0M121.0 413.7h1.0M122.9 410.8h0.1M110.4 424.9h1.0M112.3 422.1h1.0M114.2 419.3h0.1M115.2 416.5h0.1M116.2 413.7h0.1M117.1 410.8h0.1M124.9 424.9h0.1M125.8 422.1h0.1M126.8 419.3h3.9M131.6 416.5h0.1M132.6 413.7h1.0M134.5 410.8h0.1M109.4 424.9h0.1M110.4 422.1h0.1M111.3 419.3h0.1M112.3 416.5h1.0M114.2 413.7h0.1M115.2 410.8h0.1M121.0 424.9h0.1M122.0 422.1h0.1M122.9 419.3h0.1M123.9 416.5h0.1M124.9 413.7h0.1M125.8 410.8h0.1M108.4 424.9h0.1M109.4 422.1h9.7M120.0 419.3h1.0M122.0 416.5h0.1M122.9 413.7h1.0M124.9 410.8h0.1M114.2 424.9h0.1M115.2 422.1h0.1M116.2 419.3h0.1M117.1 416.5h0.1M118.1 413.7h1.0M120.0 410.8h0.1M157.7 424.9h0.1M158.7 422.1h9.7M169.3 419.3h3.9M174.1 416.5h12.6M187.7 413.7h0.1M188.6 410.8h5.8M153.9 424.9h1.0M155.8 422.1h1.0M157.7 419.3h1.0M159.6 416.5h0.1M160.6 413.7h0.1M161.6 410.8h0.1M140.3 424.9h29.9M171.2 422.1h0.1M172.2 419.3h12.6M185.7 416.5h1.0M187.7 413.7h1.9M190.6 410.8h0.1M151.9 424.9h8.7M161.6 422.1h1.0M163.5 419.3h1.0M165.4 416.5h0.1M166.4 413.7h0.1M167.4 410.8h1.0M167.4 424.9h7.7M176.1 422.1h6.8M183.8 419.3h3.9M188.6 416.5h3.9M193.5 413.7h0.1M194.4 410.8h5.8M141.3 424.9h4.8M147.1 422.1h0.1M148.1 419.3h8.7M157.7 416.5h1.0M159.6 413.7h1.0M161.6 410.8h0.1M163.5 424.9h12.6M177.0 422.1h2.9M180.9 419.3h24.2M206.0 416.5h7.7M214.7 413.7h1.0M216.6 410.8h1.0M146.1 424.9h6.8M153.9 422.1h4.8M159.6 419.3h2.9M163.5 416.5h5.8M170.3 413.7h1.0M172.2 410.8h1.0M155.8 424.9h8.7M165.4 422.1h5.8M172.2 419.3h1.9M175.1 416.5h0.1M176.1 413.7h9.7M186.7 410.8h5.8M158.7 424.9h4.8M164.5 422.1h1.9M167.4 419.3h5.8M174.1 416.5h1.0M176.1 413.7h2.9M179.9 410.8h2.9M160.6 424.9h5.8M167.4 422.1h0.1M168.3 419.3h1.0M170.3 416.5h4.8M176.1 413.7h4.8M181.9 410.8h23.2M126.8 424.9h1.9M129.7 422.1h0.1M130.7 419.3h4.8M136.5 416.5h0.1M137.4 413.7h0.1M138.4 410.8h2.9M107.5 424.9h0.1M108.4 422.1h0.1M109.4 419.3h0.1M110.4 416.5h0.1M111.3 413.7h0.1M112.3 410.8h1.0M122.9 424.9h0.1M123.9 422.1h1.9M126.8 419.3h0.1M127.8 416.5h0.1M128.7 413.7h0.1M129.7 410.8h0.1M115.2 424.9h1.9M118.1 422.1h1.0M120.0 419.3h1.0M122.0 416.5h17.4M140.3 413.7h1.0M142.3 410.8h1.0M119.1 424.9h0.1M120.0 422.1h2.9M123.9 419.3h0.1M124.9 416.5h1.0M126.8 413.7h1.9M129.7 410.8h0.1M125.8 424.9h2.9M129.7 422.1h1.9M132.6 419.3h1.0M134.5 416.5h1.0M136.5 413.7h0.1M137.4 410.8h0.1M105.6 424.9h0.1M106.5 422.1h0.1M107.5 419.3h0.1M108.4 416.5h2.9M112.3 413.7h0.1M113.3 410.8h1.0M114.2 424.9h0.1M115.2 422.1h3.9M120.0 419.3h1.9M122.9 416.5h0.1M123.9 413.7h1.0M125.8 410.8h0.1M119.1 424.9h0.1M120.0 422.1h0.1M121.0 419.3h1.0M122.9 416.5h1.9M125.8 413.7h1.9M128.7 410.8h1.0M126.8 424.9h0.1M127.8 422.1h0.1M128.7 419.3h1.9M131.6 416.5h1.9M134.5 413.7h1.0M136.5 410.8h0.1M109.4 424.9h0.1M110.4 422.1h1.9M113.3 419.3h1.0M115.2 416.5h4.8M121.0 413.7h0.1M122.0 410.8h1.0M109.4 424.9h1.9M112.3 422.1h0.1M113.3 419.3h1.0M115.2 416.5h4.8M121.0 413.7h1.0M122.9 410.8h3.9M114.2 424.9h0.1M115.2 422.1h0.1M116.2 419.3h1.0M118.1 416.5h1.9M121.0 413.7h0.1M122.0 410.8h0.1M118.1 424.9h1.9M121.0 422.1h1.9M123.9 419.3h0.1M124.9 416.5h2.9M128.7 413.7h3.9M133.6 410.8h0.1M109.4 424.9h0.1M110.4 422.1h1.9M113.3 419.3h0.1M114.2 416.5h1.0M116.2 413.7h0.1M117.1 410.8h3.9M110.4 424.9h0.1M111.3 422.1h0.1M112.3 419.3h2.9M116.2 416.5h2.9M120.0 413.7h1.0M122.0 410.8h0.1"/>
<path stroke="#0f1f3a" d="M135.5 408.0h1.9M138.4 405.2h1.9M141.3 402.4h1.0M143.2 399.6h1.9M146.1 396.7h4.8M151.9 393.9h2.9M155.8 391.1h1.9M131.6 408.0h0.1M132.6 405.2h1.0M134.5 402.4h1.0M136.5 399.6h1.0M138.4 396.7h2.9M142.3 393.9h0.1M143.2 391.1h1.9M130.7 408.0h0.1M131.6 405.2h0.1M132.6 402.4h1.0M134.5 399.6h1.9M137.4 396.7h3.9M142.3 393.9h0.1M143.2 391.1h0.1M130.7 408.0h1.0M132.6 405.2h0.1M133.6 402.4h1.9M136.5 399.6h1.9M139.4 396.7h0.1M140.3 393.9h7.7M149.0 391.1h0.1M136.5 408.0h1.0M138.4 405.2h3.9M143.2 402.4h0.1M144.2 399.6h1.0M146.1 396.7h1.9M149.0 393.9h0.1M150.0 391.1h1.9M190.6 408.0h2.9M194.4 405.2h0.1M195.4 402.4h0.1M196.4 399.6h14.5M211.8 396.7h10.6M223.4 393.9h0.1M224.4 391.1h4.8M152.9 408.0h1.0M154.8 405.2h2.9M158.7 402.4h2.9M162.5 399.6h2.9M166.4 396.7h3.9M171.2 393.9h8.7M180.9 391.1h5.8M187.7 408.0h1.0M189.6 405.2h5.8M196.4 402.4h6.8M204.1 399.6h3.9M208.9 396.7h4.8M214.7 393.9h5.8M221.5 391.1h10.6M204.1 408.0h3.9M208.9 402.4h5.8M215.7 399.6h5.8M222.4 396.7h25.1M248.5 393.9h24.2M178.0 408.0h1.9M180.9 405.2h21.3M203.1 402.4h2.9M207.0 399.6h1.0M208.9 396.7h1.0M210.8 393.9h0.1M211.8 391.1h1.9M187.7 408.0h3.9M192.5 405.2h36.7M230.2 402.4h4.8M146.1 408.0h0.1M147.1 405.2h0.1M148.1 402.4h1.0M150.0 399.6h1.9M152.9 396.7h5.8M159.6 393.9h6.8M167.4 391.1h0.1M142.3 408.0h3.9M147.1 405.2h1.9M150.0 402.4h0.1M151.0 399.6h1.9M153.9 396.7h1.0M155.8 393.9h9.7M166.4 391.1h3.9M122.0 408.0h0.1M122.9 405.2h1.0M124.9 402.4h1.0M126.8 399.6h3.9M131.6 396.7h0.1M132.6 393.9h1.9M135.5 391.1h0.1M127.8 408.0h1.0M129.7 405.2h2.9M133.6 402.4h1.9M136.5 399.6h1.0M138.4 396.7h0.1M139.4 393.9h0.1M140.3 391.1h8.7M138.4 408.0h0.1M139.4 405.2h0.1M140.3 402.4h0.1M141.3 399.6h0.1M142.3 396.7h0.1M143.2 393.9h0.1M144.2 391.1h0.1M141.3 408.0h0.1M142.3 405.2h1.0M144.2 402.4h1.0M146.1 399.6h1.0M148.1 396.7h0.1M149.0 393.9h0.1M150.0 391.1h0.1M136.5 408.0h0.1M137.4 405.2h3.9M142.3 402.4h0.1M143.2 399.6h0.1M144.2 396.7h5.8M151.0 393.9h0.1M151.9 391.1h0.1M151.0 408.0h0.1M151.9 405.2h0.1M152.9 402.4h0.1M153.9 399.6h0.1M154.8 396.7h0.1M155.8 393.9h0.1M156.8 391.1h0.1M125.8 408.0h1.9M128.7 405.2h1.0M130.7 402.4h1.9M133.6 399.6h0.1M134.5 396.7h1.0M136.5 393.9h1.0M138.4 391.1h0.1M112.3 408.0h0.1M113.3 405.2h0.1M114.2 402.4h1.0M116.2 399.6h0.1M117.1 396.7h0.1M118.1 393.9h0.1M119.1 391.1h2.9M117.1 408.0h0.1M118.1 405.2h0.1M119.1 402.4h0.1M120.0 399.6h0.1M121.0 396.7h1.0M122.9 393.9h1.0M124.9 391.1h1.9M129.7 408.0h0.1M130.7 405.2h0.1M131.6 402.4h0.1M132.6 399.6h1.0M134.5 396.7h6.8M142.3 393.9h2.9M146.1 391.1h0.1M112.3 408.0h0.1M113.3 405.2h0.1M114.2 402.4h1.0M116.2 399.6h0.1M117.1 396.7h0.1M118.1 393.9h0.1M119.1 391.1h1.9M129.7 408.0h0.1M130.7 405.2h0.1M131.6 402.4h0.1M132.6 399.6h1.0M134.5 396.7h0.1M135.5 393.9h0.1M136.5 391.1h0.1M118.1 408.0h1.0M120.0 405.2h0.1M121.0 402.4h0.1M122.0 399.6h0.1M122.9 396.7h0.1M123.9 393.9h1.0M125.8 391.1h0.1M128.7 408.0h0.1M129.7 405.2h0.1M130.7 402.4h8.7M140.3 399.6h0.1M141.3 396.7h0.1M142.3 393.9h1.9M145.2 391.1h3.9M112.3 408.0h1.0M114.2 405.2h1.0M116.2 402.4h0.1M117.1 399.6h0.1M118.1 396.7h0.1M119.1 393.9h1.0M121.0 391.1h1.9M116.2 408.0h1.0M118.1 405.2h1.0M120.0 402.4h0.1M121.0 399.6h1.0M122.9 396.7h1.0M124.9 393.9h0.1M125.8 391.1h1.0M129.7 408.0h0.1M130.7 405.2h0.1M131.6 402.4h0.1M132.6 399.6h0.1M133.6 396.7h0.1M134.5 393.9h1.0M136.5 391.1h0.1M120.0 408.0h0.1M121.0 405.2h1.0M122.9 402.4h0.1M123.9 399.6h4.8M129.7 396.7h1.0M131.6 393.9h0.1M132.6 391.1h0.1M119.1 408.0h0.1M120.0 405.2h0.1M121.0 402.4h0.1M122.0 399.6h0.1M122.9 396.7h0.1M123.9 393.9h1.0M125.8 391.1h0.1M122.0 408.0h1.0M123.9 405.2h4.8M129.7 402.4h0.1M130.7 399.6h3.9M135.5 396.7h1.0M137.4 393.9h4.8M143.2 391.1h0.1M123.9 408.0h0.1M124.9 405.2h0.1M125.8 402.4h0.1M126.8 399.6h0.1M127.8 396.7h0.1M128.7 393.9h0.1M129.7 391.1h0.1M118.1 408.0h1.0M120.0 405.2h1.9M122.9 402.4h0.1M123.9 399.6h0.1M124.9 396.7h0.1M125.8 393.9h1.0M127.8 391.1h0.1M135.5 408.0h3.9M140.3 405.2h0.1M141.3 402.4h0.1M142.3 399.6h0.1M143.2 396.7h1.0M145.2 393.9h1.9M148.1 391.1h1.0M116.2 408.0h0.1M117.1 405.2h1.0M119.1 402.4h0.1M120.0 399.6h0.1M121.0 396.7h0.1M122.0 393.9h0.1M122.9 391.1h1.0M126.8 408.0h5.8M133.6 405.2h0.1M134.5 402.4h0.1M135.5 399.6h0.1M136.5 396.7h0.1M137.4 393.9h1.9M140.3 391.1h1.0M125.8 408.0h0.1M126.8 405.2h0.1M127.8 402.4h0.1M128.7 399.6h0.1M129.7 396.7h1.0M131.6 393.9h1.0M133.6 391.1h1.0M121.0 408.0h1.0M122.9 405.2h0.1M123.9 402.4h0.1M124.9 399.6h2.9M128.7 396.7h0.1M129.7 393.9h1.0M131.6 391.1h1.9M195.4 408.0h3.9M200.2 405.2h1.0M202.2 402.4h0.1M203.1 399.6h0.1M204.1 396.7h0.1M205.1 393.9h8.7M214.7 391.1h1.9M162.5 408.0h0.1M163.5 405.2h0.1M164.5 402.4h0.1M165.4 399.6h5.8M172.2 396.7h0.1M173.2 393.9h8.7M182.8 391.1h0.1M191.5 408.0h8.7M201.2 405.2h0.1M202.2 402.4h0.1M203.1 399.6h1.9M206.0 396.7h7.7M214.7 393.9h0.1M215.7 391.1h2.9M169.3 408.0h0.1M170.3 405.2h8.7M179.9 402.4h6.8M187.7 399.6h3.9M192.5 396.7h0.1M193.5 393.9h0.1M194.4 391.1h0.1M201.2 408.0h5.8M207.9 405.2h9.7M218.6 402.4h1.0M220.5 399.6h2.9M162.5 408.0h0.1M163.5 405.2h0.1M164.5 402.4h2.9M168.3 399.6h3.9M173.2 396.7h3.9M178.0 393.9h1.0M179.9 391.1h7.7M218.6 408.0h0.1M219.5 405.2h0.1M220.5 402.4h2.9M224.4 399.6h10.6M236.0 396.7h0.1M236.9 393.9h4.8M242.7 391.1h0.1M174.1 408.0h3.9M179.0 405.2h3.9M183.8 402.4h1.0M185.7 399.6h5.8M192.5 396.7h1.0M194.4 393.9h0.1M195.4 391.1h0.1M193.5 408.0h8.7M203.1 405.2h1.0M205.1 402.4h0.1M206.0 399.6h0.1M207.0 396.7h0.1M207.9 393.9h0.1M208.9 391.1h0.1M183.8 408.0h15.5M200.2 405.2h13.5M214.7 402.4h1.0M216.6 399.6h3.9M221.5 396.7h0.1M222.4 393.9h0.1M223.4 391.1h1.0M206.0 408.0h14.5M221.5 405.2h0.1M222.4 402.4h2.9M226.3 399.6h31.9M259.1 396.7h1.9M262.0 393.9h2.9M265.9 391.1h1.9M142.3 408.0h1.0M144.2 405.2h1.0M146.1 402.4h1.9M149.0 399.6h0.1M150.0 396.7h1.0M151.9 393.9h0.1M152.9 391.1h0.1M114.2 408.0h1.0M116.2 405.2h0.1M117.1 402.4h1.9M120.0 399.6h1.9M122.9 396.7h0.1M123.9 393.9h0.1M124.9 391.1h0.1M130.7 408.0h2.9M134.5 405.2h1.9M137.4 402.4h1.9M140.3 399.6h0.1M141.3 396.7h0.1M142.3 393.9h1.9M145.2 391.1h0.1M144.2 408.0h0.1M145.2 405.2h12.6M158.7 402.4h2.9M162.5 399.6h0.1M163.5 396.7h1.0M165.4 393.9h1.0M167.4 391.1h4.8M130.7 408.0h4.8M136.5 405.2h3.9M141.3 402.4h1.9M144.2 399.6h0.1M145.2 396.7h0.1M146.1 393.9h0.1M147.1 391.1h1.0M138.4 408.0h1.9M141.3 405.2h1.0M143.2 402.4h0.1M144.2 399.6h1.0M146.1 396.7h0.1M147.1 393.9h0.1M148.1 391.1h1.0M115.2 408.0h0.1M116.2 405.2h0.1M117.1 402.4h1.0M119.1 399.6h0.1M120.0 396.7h1.0M122.0 393.9h2.9M125.8 391.1h0.1M126.8 408.0h1.9M129.7 405.2h1.9M132.6 402.4h1.9M135.5 399.6h1.0M137.4 396.7h1.0M139.4 393.9h1.0M141.3 391.1h1.0M130.7 408.0h1.9M133.6 405.2h0.1M134.5 402.4h0.1M135.5 399.6h0.1M136.5 396.7h1.0M138.4 393.9h1.0M140.3 391.1h1.9M137.4 408.0h1.0M139.4 405.2h1.0M141.3 402.4h1.0M143.2 399.6h1.0M145.2 396.7h0.1M146.1 393.9h0.1M147.1 391.1h5.8M123.9 408.0h1.0M125.8 405.2h0.1M126.8 402.4h0.1M127.8 399.6h0.1M128.7 396.7h0.1M129.7 393.9h1.9M132.6 391.1h0.1M127.8 408.0h2.9M131.6 405.2h1.0M133.6 402.4h1.0M135.5 399.6h4.8M141.3 396.7h4.8M147.1 393.9h1.0M149.0 391.1h1.9M122.9 408.0h3.9M127.8 405.2h0.1M128.7 402.4h0.1M129.7 399.6h3.9M134.5 396.7h1.0M136.5 393.9h0.1M137.4 391.1h2.9M134.5 408.0h1.9M137.4 405.2h6.8M145.2 402.4h0.1M146.1 399.6h1.0M148.1 396.7h0.1M149.0 393.9h2.9M152.9 391.1h0.1M122.0 408.0h1.0M123.9 405.2h2.9M127.8 402.4h6.8M135.5 399.6h0.1M136.5 396.7h0.1M137.4 393.9h0.1M138.4 391.1h0.1M122.9 408.0h0.1M123.9 405.2h0.1M124.9 402.4h1.0M126.8 399.6h0.1M127.8 396.7h0.1M128.7 393.9h1.9M131.6 391.1h2.9"/>
<path stroke="#122542" d="M158.7 388.3h2.9M162.5 385.5h1.0M164.5 382.7h0.1M165.4 379.8h5.8M172.2 377.0h1.9M175.1 374.2h0.1M176.1 371.4h0.1M146.1 388.3h1.0M148.1 385.5h3.9M152.9 382.7h0.1M153.9 379.8h3.9M158.7 377.0h0.1M159.6 374.2h0.1M160.6 371.4h2.9M144.2 388.3h4.8M150.0 385.5h0.1M151.0 382.7h0.1M151.9 379.8h2.9M155.8 377.0h0.1M156.8 374.2h1.9M159.6 371.4h1.0M150.0 388.3h2.9M153.9 385.5h2.9M157.7 382.7h0.1M158.7 379.8h0.1M159.6 377.0h1.0M161.6 374.2h3.9M166.4 371.4h1.0M152.9 388.3h0.1M153.9 385.5h1.9M156.8 382.7h1.9M159.6 379.8h1.9M162.5 377.0h1.0M164.5 374.2h1.9M167.4 371.4h1.9M230.2 388.3h0.1M231.1 385.5h4.8M236.9 382.7h0.1M237.9 379.8h10.6M249.5 377.0h2.9M253.3 374.2h1.9M256.2 371.4h0.1M187.7 388.3h0.1M188.6 385.5h1.9M191.5 382.7h1.0M193.5 379.8h1.0M195.4 377.0h2.9M199.3 374.2h2.9M203.1 371.4h2.9M233.1 388.3h4.8M238.9 385.5h2.9M242.7 382.7h14.5M258.2 379.8h5.8M264.9 377.0h1.9M267.8 374.2h1.0M269.8 371.4h0.1M214.7 388.3h4.8M220.5 385.5h38.6M168.3 388.3h0.1M169.3 385.5h4.8M175.1 382.7h1.0M177.0 379.8h0.1M178.0 377.0h1.9M180.9 374.2h4.8M186.7 371.4h0.1M171.2 388.3h1.0M173.2 385.5h2.9M177.0 382.7h1.0M179.0 379.8h1.0M180.9 377.0h1.9M183.8 374.2h0.1M184.8 371.4h0.1M136.5 388.3h1.0M138.4 385.5h6.8M146.1 382.7h0.1M147.1 379.8h1.0M149.0 377.0h1.0M151.0 374.2h0.1M151.9 371.4h3.9M150.0 388.3h1.0M151.9 385.5h2.9M155.8 382.7h1.0M157.7 379.8h4.8M163.5 377.0h0.1M164.5 374.2h1.9M167.4 371.4h0.1M145.2 388.3h2.9M149.0 385.5h0.1M150.0 382.7h0.1M151.0 379.8h0.1M151.9 377.0h0.1M152.9 374.2h0.1M153.9 371.4h0.1M151.0 388.3h1.0M152.9 385.5h0.1M153.9 382.7h8.7M163.5 379.8h1.9M166.4 377.0h7.7M175.1 374.2h0.1M176.1 371.4h0.1M152.9 388.3h1.9M155.8 385.5h0.1M156.8 382.7h1.0M158.7 379.8h0.1M159.6 377.0h0.1M160.6 374.2h1.9M163.5 371.4h1.0M157.7 388.3h0.1M158.7 385.5h2.9M162.5 382.7h0.1M163.5 379.8h0.1M164.5 377.0h1.9M167.4 374.2h1.9M170.3 371.4h3.9M139.4 388.3h1.0M141.3 385.5h0.1M142.3 382.7h1.9M145.2 379.8h0.1M146.1 377.0h0.1M147.1 374.2h0.1M148.1 371.4h0.1M122.9 388.3h1.0M124.9 385.5h0.1M125.8 382.7h0.1M126.8 379.8h0.1M127.8 377.0h0.1M128.7 374.2h0.1M129.7 371.4h1.0M127.8 388.3h0.1M128.7 385.5h1.0M130.7 382.7h0.1M131.6 379.8h3.9M136.5 377.0h0.1M137.4 374.2h1.0M139.4 371.4h0.1M147.1 388.3h0.1M148.1 385.5h0.1M149.0 382.7h0.1M150.0 379.8h0.1M151.0 377.0h0.1M151.9 374.2h1.9M154.8 371.4h1.9M122.0 388.3h0.1M122.9 385.5h0.1M123.9 382.7h0.1M124.9 379.8h0.1M125.8 377.0h0.1M126.8 374.2h0.1M127.8 371.4h0.1M137.4 388.3h0.1M138.4 385.5h1.0M140.3 382.7h0.1M141.3 379.8h7.7M150.0 377.0h1.0M151.9 374.2h1.9M154.8 371.4h1.9M126.8 388.3h0.1M127.8 385.5h0.1M128.7 382.7h0.1M129.7 379.8h0.1M130.7 377.0h3.9M135.5 374.2h1.0M137.4 371.4h0.1M150.0 388.3h0.1M151.0 385.5h4.8M156.8 382.7h0.1M157.7 379.8h0.1M158.7 377.0h0.1M159.6 374.2h0.1M160.6 371.4h0.1M123.9 388.3h0.1M124.9 385.5h1.0M126.8 382.7h0.1M127.8 379.8h1.0M129.7 377.0h3.9M134.5 374.2h1.0M136.5 371.4h1.9M127.8 388.3h1.0M129.7 385.5h0.1M130.7 382.7h1.0M132.6 379.8h1.0M134.5 377.0h0.1M135.5 374.2h1.0M137.4 371.4h0.1M137.4 388.3h4.8M143.2 385.5h0.1M144.2 382.7h0.1M145.2 379.8h1.0M147.1 377.0h0.1M148.1 374.2h1.0M150.0 371.4h4.8M133.6 388.3h0.1M134.5 385.5h0.1M135.5 382.7h0.1M136.5 379.8h1.0M138.4 377.0h10.6M150.0 374.2h0.1M151.0 371.4h0.1M126.8 388.3h0.1M127.8 385.5h0.1M128.7 382.7h0.1M129.7 379.8h0.1M130.7 377.0h0.1M131.6 374.2h0.1M132.6 371.4h0.1M144.2 388.3h1.0M146.1 385.5h1.0M148.1 382.7h0.1M149.0 379.8h0.1M150.0 377.0h1.9M152.9 374.2h8.7M162.5 371.4h0.1M130.7 388.3h0.1M131.6 385.5h0.1M132.6 382.7h0.1M133.6 379.8h0.1M134.5 377.0h1.9M137.4 374.2h1.0M139.4 371.4h6.8M128.7 388.3h0.1M129.7 385.5h0.1M130.7 382.7h0.1M131.6 379.8h0.1M132.6 377.0h0.1M133.6 374.2h0.1M134.5 371.4h0.1M150.0 388.3h1.9M152.9 385.5h1.0M154.8 382.7h3.9M159.6 379.8h3.9M164.5 377.0h1.9M167.4 374.2h1.0M169.3 371.4h0.1M124.9 388.3h0.1M125.8 385.5h0.1M126.8 382.7h0.1M127.8 379.8h0.1M128.7 377.0h2.9M132.6 374.2h0.1M133.6 371.4h0.1M142.3 388.3h2.9M146.1 385.5h1.0M148.1 382.7h0.1M149.0 379.8h2.9M152.9 377.0h2.9M156.8 374.2h1.0M158.7 371.4h0.1M135.5 388.3h0.1M136.5 385.5h1.0M138.4 382.7h0.1M139.4 379.8h3.9M144.2 377.0h3.9M149.0 374.2h1.0M151.0 371.4h0.1M134.5 388.3h1.0M136.5 385.5h6.8M144.2 382.7h0.1M145.2 379.8h1.9M148.1 377.0h2.9M151.9 374.2h0.1M152.9 371.4h4.8M217.6 388.3h0.1M218.6 385.5h0.1M219.5 382.7h5.8M226.3 379.8h11.6M238.9 377.0h0.1M239.8 374.2h0.1M240.8 371.4h2.9M183.8 388.3h1.0M185.7 385.5h5.8M192.5 382.7h1.9M195.4 379.8h0.1M196.4 377.0h3.9M201.2 374.2h7.7M209.9 371.4h32.8M219.5 388.3h0.1M220.5 385.5h4.8M226.3 382.7h8.7M236.0 379.8h0.1M236.9 377.0h8.7M246.6 374.2h20.3M195.4 388.3h1.0M197.3 385.5h7.7M206.0 382.7h8.7M215.7 379.8h1.9M218.6 377.0h3.9M188.6 388.3h1.9M191.5 385.5h4.8M197.3 382.7h1.0M199.3 379.8h5.8M206.0 377.0h6.8M243.7 388.3h9.7M254.3 385.5h0.1M255.3 382.7h0.1M256.2 379.8h10.6M267.8 377.0h0.1M268.8 374.2h1.9M196.4 388.3h1.0M198.3 385.5h0.1M199.3 382.7h0.1M200.2 379.8h0.1M201.2 377.0h2.9M205.1 374.2h2.9M225.3 388.3h0.1M268.8 388.3h0.1M269.8 385.5h6.8M277.5 382.7h9.7M288.1 379.8h9.7M298.8 377.0h14.5M314.2 374.2h1.0M153.9 388.3h0.1M154.8 385.5h0.1M155.8 382.7h0.1M156.8 379.8h0.1M157.7 377.0h1.0M159.6 374.2h0.1M160.6 371.4h1.0M125.8 388.3h0.1M126.8 385.5h1.0M128.7 382.7h0.1M129.7 379.8h0.1M130.7 377.0h0.1M131.6 374.2h1.9M134.5 371.4h1.0M146.1 388.3h0.1M147.1 385.5h0.1M148.1 382.7h0.1M149.0 379.8h0.1M150.0 377.0h0.1M151.0 374.2h0.1M151.9 371.4h0.1M173.2 388.3h1.0M175.1 385.5h1.0M177.0 382.7h1.9M179.9 379.8h0.1M180.9 377.0h0.1M181.9 374.2h1.0M183.8 371.4h0.1M149.0 388.3h4.8M154.8 385.5h0.1M155.8 382.7h9.7M166.4 379.8h4.8M172.2 377.0h0.1M173.2 374.2h5.8M179.9 371.4h4.8M150.0 388.3h0.1M151.0 385.5h0.1M151.9 382.7h3.9M156.8 379.8h2.9M160.6 377.0h4.8M166.4 374.2h1.9M169.3 371.4h5.8M126.8 388.3h0.1M127.8 385.5h0.1M128.7 382.7h0.1M129.7 379.8h0.1M130.7 377.0h0.1M131.6 374.2h0.1M132.6 371.4h1.0M143.2 388.3h1.9M146.1 385.5h1.9M149.0 382.7h0.1M150.0 379.8h11.6M162.5 377.0h8.7M172.2 374.2h0.1M173.2 371.4h1.0M143.2 388.3h1.9M146.1 385.5h0.1M147.1 382.7h3.9M151.9 379.8h3.9M156.8 377.0h1.9M159.6 374.2h1.0M161.6 371.4h0.1M153.9 388.3h1.0M155.8 385.5h1.9M158.7 382.7h0.1M159.6 379.8h2.9M163.5 377.0h0.1M164.5 374.2h0.1M165.4 371.4h0.1M133.6 388.3h1.0M135.5 385.5h7.7M144.2 382.7h0.1M145.2 379.8h0.1M146.1 377.0h1.0M148.1 374.2h0.1M149.0 371.4h2.9M151.9 388.3h1.0M153.9 385.5h0.1M154.8 382.7h1.0M156.8 379.8h1.0M158.7 377.0h0.1M159.6 374.2h1.0M161.6 371.4h1.0M141.3 388.3h1.9M144.2 385.5h0.1M145.2 382.7h1.0M147.1 379.8h0.1M148.1 377.0h1.0M150.0 374.2h1.0M151.9 371.4h0.1M153.9 388.3h0.1M154.8 385.5h0.1M155.8 382.7h1.9M158.7 379.8h1.0M160.6 377.0h0.1M161.6 374.2h1.0M163.5 371.4h0.1M139.4 388.3h1.0M141.3 385.5h0.1M142.3 382.7h1.0M144.2 379.8h1.0M146.1 377.0h1.9M149.0 374.2h1.0M151.0 371.4h3.9M135.5 388.3h1.0M137.4 385.5h1.9M140.3 382.7h0.1M141.3 379.8h1.0M143.2 377.0h0.1M144.2 374.2h0.1M145.2 371.4h0.1"/>
<path stroke="#142b4b" d="M177.0 368.6h0.1M178.0 365.7h1.0M179.9 362.9h6.8M187.7 360.1h1.9M190.6 357.3h2.9M194.4 354.5h5.8M201.2 351.6h2.9M164.5 368.6h0.1M165.4 365.7h1.0M167.4 362.9h3.9M172.2 360.1h3.9M177.0 357.3h0.1M178.0 354.5h4.8M183.8 351.6h0.1M161.6 368.6h0.1M162.5 365.7h1.0M164.5 362.9h7.7M173.2 360.1h1.0M175.1 357.3h0.1M176.1 354.5h1.0M178.0 351.6h1.9M168.3 368.6h1.9M171.2 365.7h0.1M172.2 362.9h3.9M177.0 360.1h1.9M179.9 357.3h0.1M180.9 354.5h0.1M181.9 351.6h0.1M170.3 368.6h2.9M174.1 365.7h1.9M177.0 362.9h2.9M180.9 360.1h1.0M182.8 357.3h1.0M184.8 354.5h1.9M187.7 351.6h11.6M257.2 368.6h1.0M259.1 365.7h0.1M260.1 362.9h0.1M261.1 360.1h1.0M263.0 357.3h0.1M264.0 354.5h0.1M264.9 351.6h1.0M207.0 368.6h8.7M216.6 365.7h0.1M217.6 362.9h1.9M220.5 360.1h9.7M231.1 357.3h1.0M233.1 354.5h1.9M236.0 351.6h8.7M270.7 368.6h0.1M271.7 365.7h1.0M273.6 362.9h0.1M274.6 360.1h18.4M293.9 357.3h3.9M298.8 354.5h9.7M309.4 351.6h5.8M187.7 368.6h1.9M190.6 365.7h0.1M191.5 362.9h2.9M195.4 360.1h1.0M197.3 357.3h1.9M200.2 354.5h4.8M206.0 351.6h0.1M185.7 368.6h0.1M186.7 365.7h8.7M196.4 362.9h1.0M198.3 360.1h3.9M203.1 357.3h5.8M209.9 354.5h1.0M211.8 351.6h4.8M156.8 368.6h0.1M157.7 365.7h0.1M158.7 362.9h1.9M161.6 360.1h1.9M164.5 357.3h0.1M165.4 354.5h3.9M170.3 351.6h0.1M168.3 368.6h0.1M169.3 365.7h0.1M170.3 362.9h0.1M171.2 360.1h0.1M172.2 357.3h0.1M173.2 354.5h0.1M174.1 351.6h0.1M154.8 368.6h0.1M155.8 365.7h1.9M158.7 362.9h1.0M160.6 360.1h5.8M167.4 357.3h2.9M171.2 354.5h0.1M172.2 351.6h1.9M177.0 368.6h3.9M181.9 365.7h0.1M182.8 362.9h8.7M192.5 360.1h0.1M193.5 357.3h0.1M194.4 354.5h1.0M196.4 351.6h2.9M165.4 368.6h1.9M168.3 365.7h2.9M172.2 362.9h1.0M174.1 360.1h2.9M178.0 357.3h1.0M179.9 354.5h1.9M182.8 351.6h1.0M175.1 368.6h0.1M176.1 365.7h0.1M177.0 362.9h2.9M180.9 360.1h0.1M181.9 357.3h0.1M182.8 354.5h0.1M183.8 351.6h0.1M149.0 368.6h1.0M151.0 365.7h0.1M151.9 362.9h0.1M152.9 360.1h0.1M153.9 357.3h3.9M158.7 354.5h0.1M159.6 351.6h0.1M131.6 368.6h0.1M132.6 365.7h1.9M135.5 362.9h0.1M136.5 360.1h0.1M137.4 357.3h1.0M139.4 354.5h1.0M141.3 351.6h1.0M140.3 368.6h0.1M141.3 365.7h1.0M143.2 362.9h0.1M144.2 360.1h0.1M145.2 357.3h0.1M146.1 354.5h0.1M147.1 351.6h0.1M157.7 368.6h1.0M159.6 365.7h0.1M160.6 362.9h3.9M165.4 360.1h1.9M168.3 357.3h3.9M173.2 354.5h0.1M174.1 351.6h0.1M128.7 368.6h1.0M130.7 365.7h0.1M131.6 362.9h0.1M132.6 360.1h1.0M134.5 357.3h0.1M135.5 354.5h0.1M136.5 351.6h0.1M157.7 368.6h0.1M158.7 365.7h0.1M159.6 362.9h1.9M162.5 360.1h0.1M163.5 357.3h1.9M166.4 354.5h0.1M167.4 351.6h1.9M138.4 368.6h0.1M139.4 365.7h0.1M140.3 362.9h0.1M141.3 360.1h0.1M142.3 357.3h0.1M143.2 354.5h0.1M144.2 351.6h0.1M161.6 368.6h0.1M162.5 365.7h9.7M173.2 362.9h3.9M178.0 360.1h2.9M181.9 357.3h1.9M184.8 354.5h1.9M187.7 351.6h0.1M139.4 368.6h0.1M140.3 365.7h0.1M141.3 362.9h0.1M142.3 360.1h0.1M143.2 357.3h0.1M144.2 354.5h1.0M146.1 351.6h1.0M138.4 368.6h1.9M141.3 365.7h1.0M143.2 362.9h1.0M145.2 360.1h0.1M146.1 357.3h1.9M149.0 354.5h1.0M151.0 351.6h0.1M155.8 368.6h1.9M158.7 365.7h0.1M159.6 362.9h0.1M160.6 360.1h0.1M161.6 357.3h2.9M165.4 354.5h7.7M174.1 351.6h1.9M151.9 368.6h0.1M152.9 365.7h0.1M153.9 362.9h1.0M155.8 360.1h1.0M157.7 357.3h0.1M158.7 354.5h0.1M159.6 351.6h0.1M133.6 368.6h0.1M134.5 365.7h1.0M136.5 362.9h1.0M138.4 360.1h0.1M139.4 357.3h0.1M140.3 354.5h0.1M141.3 351.6h0.1M163.5 368.6h0.1M164.5 365.7h1.0M166.4 362.9h1.0M168.3 360.1h2.9M172.2 357.3h0.1M173.2 354.5h0.1M174.1 351.6h0.1M147.1 368.6h6.8M154.8 365.7h8.7M164.5 362.9h0.1M165.4 360.1h0.1M166.4 357.3h0.1M167.4 354.5h0.1M168.3 351.6h0.1M135.5 368.6h0.1M136.5 365.7h0.1M137.4 362.9h0.1M138.4 360.1h1.0M140.3 357.3h0.1M141.3 354.5h5.8M148.1 351.6h1.9M170.3 368.6h1.0M172.2 365.7h5.8M179.0 362.9h1.9M181.9 360.1h3.9M186.7 357.3h1.0M188.6 354.5h7.7M197.3 351.6h2.9M134.5 368.6h0.1M135.5 365.7h0.1M136.5 362.9h0.1M137.4 360.1h0.1M138.4 357.3h0.1M139.4 354.5h0.1M140.3 351.6h0.1M159.6 368.6h0.1M160.6 365.7h0.1M161.6 362.9h1.9M164.5 360.1h0.1M165.4 357.3h0.1M166.4 354.5h0.1M167.4 351.6h0.1M151.9 368.6h0.1M152.9 365.7h0.1M153.9 362.9h6.8M161.6 360.1h5.8M168.3 357.3h1.0M170.3 354.5h1.0M172.2 351.6h0.1M158.7 368.6h0.1M159.6 365.7h2.9M163.5 362.9h0.1M164.5 360.1h0.1M165.4 357.3h1.0M167.4 354.5h0.1M168.3 351.6h0.1M244.7 368.6h1.9M247.6 365.7h28.0M243.7 368.6h0.1M244.7 365.7h1.9M247.6 362.9h3.9M252.4 360.1h0.1M253.3 357.3h20.3M274.6 354.5h4.8M280.4 351.6h6.8M162.5 368.6h1.0M164.5 365.7h0.1M165.4 362.9h0.1M166.4 360.1h1.9M169.3 357.3h4.8M175.1 354.5h0.1M176.1 351.6h1.0M136.5 368.6h2.9M140.3 365.7h1.0M142.3 362.9h0.1M143.2 360.1h0.1M144.2 357.3h0.1M145.2 354.5h0.1M146.1 351.6h0.1M152.9 368.6h0.1M153.9 365.7h1.0M155.8 362.9h5.8M162.5 360.1h0.1M163.5 357.3h0.1M164.5 354.5h1.0M166.4 351.6h1.0M184.8 368.6h1.0M186.7 365.7h0.1M187.7 362.9h0.1M188.6 360.1h2.9M192.5 357.3h0.1M193.5 354.5h5.8M200.2 351.6h3.9M185.7 368.6h0.1M186.7 365.7h1.0M188.6 362.9h1.0M190.6 360.1h2.9M194.4 357.3h1.9M197.3 354.5h0.1M198.3 351.6h1.0M176.1 368.6h0.1M177.0 365.7h0.1M178.0 362.9h1.0M179.9 360.1h1.0M181.9 357.3h1.9M184.8 354.5h9.7M195.4 351.6h2.9M134.5 368.6h0.1M135.5 365.7h1.0M137.4 362.9h1.0M139.4 360.1h0.1M140.3 357.3h0.1M141.3 354.5h0.1M142.3 351.6h0.1M175.1 368.6h0.1M176.1 365.7h1.9M179.0 362.9h0.1M179.9 360.1h2.9M183.8 357.3h0.1M184.8 354.5h0.1M185.7 351.6h0.1M162.5 368.6h0.1M163.5 365.7h0.1M164.5 362.9h1.9M167.4 360.1h1.0M169.3 357.3h13.5M183.8 354.5h0.1M184.8 351.6h0.1M166.4 368.6h1.0M168.3 365.7h5.8M175.1 362.9h0.1M176.1 360.1h2.9M179.9 357.3h1.0M181.9 354.5h1.0M183.8 351.6h0.1M152.9 368.6h1.0M154.8 365.7h4.8M160.6 362.9h2.9M163.5 368.6h1.0M165.4 365.7h0.1M166.4 362.9h1.0M168.3 360.1h0.1M169.3 357.3h0.1M170.3 354.5h0.1M171.2 351.6h0.1M152.9 368.6h1.0M154.8 365.7h0.1M155.8 362.9h0.1M156.8 360.1h1.0M158.7 357.3h0.1M159.6 354.5h0.1M160.6 351.6h1.0M164.5 368.6h0.1M165.4 365.7h0.1M166.4 362.9h0.1M167.4 360.1h1.9M170.3 357.3h0.1M171.2 354.5h2.9M175.1 351.6h2.9M155.8 368.6h0.1M146.1 368.6h0.1M147.1 365.7h0.1M148.1 362.9h0.1M149.0 360.1h0.1M150.0 357.3h1.0M151.9 354.5h0.1M152.9 351.6h0.1"/>
<path stroke="#163253" d="M205.1 348.8h2.9M208.9 346.0h0.1M209.9 343.2h1.0M211.8 340.4h0.1M212.8 337.6h1.0M214.7 334.7h0.1M215.7 331.9h3.9M184.8 348.8h0.1M185.7 346.0h0.1M186.7 343.2h1.9M189.6 340.4h1.0M191.5 337.6h1.9M194.4 334.7h2.9M198.3 331.9h1.0M180.9 348.8h0.1M181.9 346.0h0.1M182.8 343.2h0.1M183.8 340.4h1.0M185.7 337.6h2.9M189.6 334.7h0.1M190.6 331.9h1.9M182.8 348.8h0.1M183.8 346.0h2.9M187.7 343.2h1.0M189.6 340.4h0.1M190.6 337.6h0.1M191.5 334.7h0.1M192.5 331.9h0.1M200.2 348.8h0.1M201.2 346.0h7.7M209.9 343.2h0.1M210.8 340.4h1.0M212.8 337.6h0.1M213.7 334.7h0.1M214.7 331.9h1.9M266.9 348.8h0.1M267.8 346.0h0.1M268.8 343.2h1.0M270.7 340.4h0.1M271.7 337.6h0.1M272.7 334.7h1.0M274.6 331.9h0.1M245.6 346.0h26.1M272.7 343.2h0.1M273.6 340.4h0.1M274.6 337.6h0.1M275.6 334.7h0.1M276.5 331.9h0.1M316.1 348.8h18.4M335.5 346.0h9.7M207.0 348.8h2.9M210.8 346.0h2.9M214.7 343.2h3.9M219.5 340.4h2.9M223.4 337.6h0.1M224.4 334.7h0.1M225.3 331.9h1.9M217.6 348.8h0.1M218.6 346.0h0.1M219.5 343.2h0.1M220.5 340.4h1.9M223.4 337.6h1.9M226.3 334.7h1.0M228.2 331.9h2.9M171.2 348.8h1.0M173.2 346.0h1.9M176.1 343.2h1.0M178.0 340.4h1.0M179.9 337.6h1.0M181.9 334.7h0.1M182.8 331.9h0.1M175.1 348.8h0.1M176.1 346.0h0.1M177.0 343.2h0.1M178.0 340.4h0.1M179.0 337.6h0.1M179.9 334.7h0.1M180.9 331.9h0.1M175.1 348.8h1.9M178.0 346.0h0.1M179.0 343.2h13.5M193.5 340.4h1.9M196.4 337.6h0.1M197.3 334.7h0.1M198.3 331.9h0.1M200.2 348.8h0.1M201.2 346.0h1.9M204.1 343.2h0.1M205.1 340.4h0.1M206.0 337.6h0.1M207.0 334.7h1.0M208.9 331.9h0.1M184.8 348.8h1.9M187.7 346.0h1.9M190.6 343.2h1.9M193.5 340.4h5.8M200.2 337.6h1.0M202.2 334.7h0.1M203.1 331.9h1.9M184.8 348.8h0.1M185.7 346.0h0.1M186.7 343.2h4.8M192.5 340.4h0.1M193.5 337.6h1.9M196.4 334.7h4.8M202.2 331.9h7.7M160.6 348.8h0.1M161.6 346.0h2.9M165.4 343.2h1.9M168.3 340.4h3.9M173.2 337.6h0.1M174.1 334.7h4.8M179.9 331.9h0.1M143.2 348.8h1.0M145.2 346.0h0.1M146.1 343.2h1.0M148.1 340.4h1.0M150.0 337.6h1.0M151.9 334.7h1.0M153.9 331.9h8.7M148.1 348.8h0.1M149.0 346.0h0.1M150.0 343.2h2.9M153.9 340.4h0.1M154.8 337.6h0.1M155.8 334.7h0.1M156.8 331.9h1.9M175.1 348.8h0.1M176.1 346.0h0.1M177.0 343.2h0.1M178.0 340.4h0.1M179.0 337.6h1.0M180.9 334.7h0.1M181.9 331.9h3.9M137.4 348.8h0.1M138.4 346.0h0.1M139.4 343.2h0.1M140.3 340.4h0.1M141.3 337.6h1.0M143.2 334.7h0.1M144.2 331.9h1.0M170.3 348.8h0.1M171.2 346.0h0.1M172.2 343.2h1.0M174.1 340.4h1.0M176.1 337.6h0.1M177.0 334.7h1.9M179.9 331.9h0.1M145.2 348.8h0.1M146.1 346.0h0.1M147.1 343.2h1.0M149.0 340.4h1.0M151.0 337.6h2.9M154.8 334.7h0.1M155.8 331.9h1.0M188.6 348.8h0.1M189.6 346.0h1.9M192.5 343.2h1.0M194.4 340.4h0.1M195.4 337.6h0.1M196.4 334.7h0.1M197.3 331.9h4.8M148.1 348.8h0.1M149.0 346.0h0.1M150.0 343.2h0.1M151.0 340.4h1.0M152.9 337.6h1.9M155.8 334.7h2.9M159.6 331.9h1.0M151.9 348.8h4.8M157.7 346.0h2.9M161.6 343.2h4.8M167.4 340.4h0.1M168.3 337.6h0.1M169.3 334.7h0.1M170.3 331.9h0.1M177.0 348.8h0.1M178.0 346.0h1.0M179.9 343.2h1.0M181.9 340.4h1.0M183.8 337.6h0.1M184.8 334.7h0.1M185.7 331.9h2.9M160.6 348.8h0.1M161.6 346.0h0.1M162.5 343.2h0.1M163.5 340.4h1.0M165.4 337.6h1.0M167.4 334.7h1.0M169.3 331.9h1.9M142.3 348.8h0.1M143.2 346.0h0.1M144.2 343.2h0.1M145.2 340.4h0.1M146.1 337.6h2.9M150.0 334.7h5.8M156.8 331.9h0.1M175.1 348.8h1.0M177.0 346.0h1.0M179.0 343.2h0.1M179.9 340.4h0.1M180.9 337.6h0.1M181.9 334.7h3.9M186.7 331.9h7.7M169.3 348.8h1.0M171.2 346.0h0.1M172.2 343.2h0.1M173.2 340.4h0.1M174.1 337.6h0.1M175.1 334.7h0.1M176.1 331.9h1.9M151.0 348.8h0.1M151.9 346.0h0.1M152.9 343.2h1.0M154.8 340.4h0.1M155.8 337.6h0.1M156.8 334.7h1.0M158.7 331.9h0.1M201.2 348.8h0.1M202.2 346.0h0.1M203.1 343.2h0.1M204.1 340.4h0.1M205.1 337.6h0.1M206.0 334.7h0.1M207.0 331.9h0.1M141.3 348.8h3.9M146.1 346.0h2.9M150.0 343.2h0.1M151.0 340.4h0.1M151.9 337.6h0.1M152.9 334.7h2.9M156.8 331.9h0.1M168.3 348.8h1.0M170.3 346.0h5.8M177.0 343.2h3.9M181.9 340.4h1.0M183.8 337.6h3.9M188.6 334.7h1.0M190.6 331.9h1.0M173.2 348.8h0.1M174.1 346.0h0.1M175.1 343.2h0.1M176.1 340.4h1.0M178.0 337.6h0.1M179.0 334.7h0.1M179.9 331.9h1.9M169.3 348.8h0.1M170.3 346.0h0.1M171.2 343.2h0.1M172.2 340.4h0.1M173.2 337.6h0.1M174.1 334.7h0.1M175.1 331.9h0.1M288.1 348.8h1.0M290.1 346.0h1.9M178.0 348.8h0.1M179.0 346.0h3.9M183.8 343.2h0.1M184.8 340.4h1.0M186.7 337.6h3.9M191.5 334.7h1.0M193.5 331.9h1.0M147.1 348.8h0.1M148.1 346.0h0.1M149.0 343.2h2.9M152.9 340.4h3.9M157.7 337.6h1.0M159.6 334.7h0.1M160.6 331.9h0.1M168.3 348.8h0.1M169.3 346.0h1.0M171.2 343.2h3.9M176.1 340.4h0.1M177.0 337.6h2.9M180.9 334.7h1.9M183.8 331.9h0.1M200.2 348.8h0.1M201.2 346.0h1.9M204.1 343.2h0.1M205.1 340.4h1.0M207.0 337.6h0.1M207.9 334.7h0.1M208.9 331.9h0.1M199.3 348.8h7.7M207.9 346.0h0.1M208.9 343.2h1.0M210.8 340.4h0.1M211.8 337.6h0.1M212.8 334.7h0.1M213.7 331.9h0.1M143.2 348.8h0.1M144.2 346.0h0.1M186.7 348.8h0.1M187.7 346.0h3.9M192.5 343.2h1.0M194.4 340.4h12.6M207.9 337.6h0.1M208.9 334.7h0.1M209.9 331.9h1.0M185.7 348.8h0.1M186.7 346.0h0.1M187.7 343.2h1.9M190.6 340.4h0.1M191.5 337.6h0.1M192.5 334.7h14.5M207.9 331.9h1.0M184.8 348.8h1.9M187.7 346.0h0.1M188.6 343.2h1.9M191.5 340.4h0.1M192.5 337.6h1.0M194.4 334.7h2.9M198.3 331.9h6.8M172.2 348.8h1.9M175.1 346.0h5.8M181.9 343.2h4.8M187.7 340.4h1.0M189.6 337.6h1.0M191.5 334.7h5.8M198.3 331.9h8.7M162.5 348.8h1.0M164.5 346.0h0.1M165.4 343.2h1.0M167.4 340.4h1.0M169.3 337.6h0.1M170.3 334.7h1.9M173.2 331.9h1.0M179.0 348.8h3.9M183.8 346.0h0.1M184.8 343.2h0.1M185.7 340.4h0.1M186.7 337.6h0.1M187.7 334.7h0.1M188.6 331.9h0.1M153.9 348.8h0.1M154.8 346.0h1.0M156.8 343.2h0.1M157.7 340.4h0.1M158.7 337.6h0.1M159.6 334.7h1.9M162.5 331.9h0.1"/>
<path stroke="#19385c" d="M220.5 329.1h0.1M221.5 326.3h1.9M224.4 323.5h1.0M226.3 320.6h2.9M230.2 317.8h3.9M235.0 315.0h0.1M236.0 312.2h10.6M200.2 329.1h3.9M205.1 326.3h1.9M207.9 323.5h1.0M209.9 320.6h1.0M211.8 317.8h1.0M213.7 315.0h1.9M216.6 312.2h1.0M193.5 329.1h1.9M196.4 326.3h1.0M198.3 323.5h2.9M202.2 320.6h1.0M204.1 317.8h1.9M207.0 315.0h1.0M208.9 312.2h3.9M193.5 329.1h0.1M194.4 326.3h1.0M196.4 323.5h4.8M202.2 320.6h1.0M204.1 317.8h0.1M205.1 315.0h1.9M207.9 312.2h0.1M217.6 329.1h5.8M224.4 326.3h2.9M228.2 323.5h1.0M230.2 320.6h1.0M232.1 317.8h0.1M233.1 315.0h0.1M234.0 312.2h0.1M275.6 329.1h1.0M277.5 326.3h14.5M293.0 323.5h10.6M304.5 320.6h16.4M321.9 317.8h38.6M361.5 312.2h0.1M277.5 329.1h0.1M278.5 326.3h0.1M279.4 323.5h0.1M280.4 320.6h0.1M281.4 317.8h0.1M282.3 315.0h1.0M284.3 312.2h0.1M228.2 329.1h0.1M229.2 326.3h0.1M230.2 323.5h0.1M231.1 320.6h6.8M238.9 317.8h3.9M243.7 315.0h3.9M248.5 312.2h0.1M232.1 329.1h3.9M236.9 326.3h1.9M239.8 323.5h1.9M242.7 320.6h1.0M244.7 317.8h0.1M245.6 315.0h0.1M246.6 312.2h0.1M183.8 329.1h1.0M185.7 326.3h4.8M191.5 323.5h5.8M198.3 320.6h0.1M199.3 317.8h0.1M200.2 315.0h3.9M205.1 312.2h2.9M181.9 329.1h0.1M182.8 326.3h2.9M186.7 323.5h2.9M190.6 320.6h1.9M193.5 317.8h0.1M194.4 315.0h0.1M195.4 312.2h1.9M199.3 329.1h1.9M202.2 326.3h0.1M203.1 323.5h0.1M204.1 320.6h0.1M205.1 317.8h0.1M206.0 315.0h0.1M207.0 312.2h3.9M209.9 329.1h0.1M210.8 326.3h5.8M217.6 323.5h2.9M221.5 320.6h0.1M222.4 317.8h3.9M227.3 315.0h0.1M228.2 312.2h0.1M206.0 329.1h0.1M207.0 326.3h0.1M207.9 323.5h1.0M209.9 320.6h1.0M211.8 317.8h1.0M213.7 315.0h2.9M217.6 312.2h1.9M210.8 329.1h1.9M213.7 326.3h6.8M221.5 323.5h3.9M226.3 320.6h4.8M232.1 317.8h1.0M234.0 315.0h4.8M239.8 312.2h1.9M180.9 329.1h1.0M182.8 326.3h1.9M185.7 323.5h1.0M187.7 320.6h1.0M189.6 317.8h0.1M190.6 315.0h0.1M191.5 312.2h0.1M163.5 329.1h1.9M166.4 326.3h1.9M169.3 323.5h0.1M170.3 320.6h1.0M172.2 317.8h1.0M174.1 315.0h2.9M178.0 312.2h0.1M159.6 329.1h0.1M160.6 326.3h0.1M161.6 323.5h1.0M163.5 320.6h1.0M165.4 317.8h1.0M167.4 315.0h1.0M169.3 312.2h1.0M186.7 329.1h0.1M187.7 326.3h1.0M189.6 323.5h0.1M190.6 320.6h0.1M191.5 317.8h1.0M193.5 315.0h1.0M195.4 312.2h0.1M146.1 329.1h0.1M147.1 326.3h3.9M151.9 323.5h1.0M153.9 320.6h0.1M154.8 317.8h0.1M155.8 315.0h0.1M156.8 312.2h1.9M180.9 329.1h0.1M181.9 326.3h0.1M182.8 323.5h0.1M183.8 320.6h0.1M184.8 317.8h0.1M185.7 315.0h1.0M187.7 312.2h0.1M157.7 329.1h1.0M159.6 326.3h1.0M161.6 323.5h0.1M162.5 320.6h3.9M167.4 317.8h1.0M169.3 315.0h0.1M170.3 312.2h1.0M203.1 329.1h0.1M204.1 326.3h0.1M205.1 323.5h0.1M206.0 320.6h1.0M207.9 317.8h0.1M208.9 315.0h1.9M211.8 312.2h1.9M161.6 329.1h1.0M163.5 326.3h1.0M165.4 323.5h1.9M168.3 320.6h0.1M169.3 317.8h1.0M171.2 315.0h0.1M172.2 312.2h1.9M171.2 329.1h1.0M173.2 326.3h1.9M176.1 323.5h0.1M177.0 320.6h0.1M178.0 317.8h0.1M179.0 315.0h1.0M180.9 312.2h0.1M189.6 329.1h0.1M190.6 326.3h0.1M191.5 323.5h1.0M193.5 320.6h0.1M194.4 317.8h0.1M195.4 315.0h1.0M197.3 312.2h1.0M172.2 329.1h1.0M174.1 326.3h1.0M176.1 323.5h1.0M178.0 320.6h8.7M187.7 317.8h0.1M188.6 315.0h1.9M191.5 312.2h2.9M157.7 329.1h1.0M159.6 326.3h0.1M160.6 323.5h0.1M161.6 320.6h0.1M162.5 317.8h4.8M168.3 315.0h1.9M171.2 312.2h0.1M195.4 329.1h0.1M196.4 326.3h0.1M197.3 323.5h0.1M198.3 320.6h0.1M199.3 317.8h0.1M200.2 315.0h1.0M202.2 312.2h0.1M179.0 329.1h0.1M179.9 326.3h0.1M180.9 323.5h0.1M181.9 320.6h0.1M182.8 317.8h1.0M184.8 315.0h1.0M186.7 312.2h0.1M159.6 329.1h2.9M163.5 326.3h4.8M169.3 323.5h0.1M170.3 320.6h1.0M172.2 317.8h1.9M175.1 315.0h0.1M176.1 312.2h0.1M207.9 329.1h1.0M209.9 326.3h1.0M211.8 323.5h1.9M214.7 320.6h0.1M215.7 317.8h0.1M216.6 315.0h1.0M218.6 312.2h0.1M157.7 329.1h0.1M158.7 326.3h2.9M162.5 323.5h0.1M163.5 320.6h1.0M165.4 317.8h4.8M171.2 315.0h1.0M173.2 312.2h1.0M192.5 329.1h0.1M193.5 326.3h0.1M194.4 323.5h0.1M195.4 320.6h4.8M201.2 317.8h3.9M206.0 315.0h3.9M210.8 312.2h0.1M182.8 329.1h1.9M185.7 326.3h1.0M187.7 323.5h0.1M188.6 320.6h2.9M192.5 317.8h1.0M194.4 315.0h0.1M195.4 312.2h1.0M176.1 329.1h0.1M177.0 326.3h0.1M178.0 323.5h0.1M179.0 320.6h0.1M179.9 317.8h0.1M180.9 315.0h0.1M181.9 312.2h0.1M195.4 329.1h1.0M197.3 326.3h0.1M198.3 323.5h2.9M202.2 320.6h1.9M205.1 317.8h9.7M215.7 315.0h1.9M218.6 312.2h0.1M161.6 329.1h2.9M165.4 326.3h0.1M166.4 323.5h0.1M167.4 320.6h0.1M168.3 317.8h0.1M169.3 315.0h1.0M171.2 312.2h0.1M184.8 329.1h6.8M192.5 326.3h4.8M198.3 323.5h1.0M200.2 320.6h0.1M201.2 317.8h0.1M202.2 315.0h0.1M203.1 312.2h0.1M209.9 329.1h0.1M210.8 326.3h0.1M211.8 323.5h1.0M213.7 320.6h0.1M214.7 317.8h0.1M215.7 315.0h0.1M216.6 312.2h11.6M214.7 329.1h1.0M216.6 326.3h0.1M217.6 323.5h0.1M218.6 320.6h4.8M224.4 317.8h1.9M227.3 315.0h0.1M228.2 312.2h0.1M211.8 329.1h1.9M214.7 326.3h0.1M215.7 323.5h0.1M216.6 320.6h8.7M226.3 317.8h5.8M233.1 315.0h3.9M237.9 312.2h1.9M209.9 329.1h0.1M210.8 326.3h0.1M211.8 323.5h0.1M212.8 320.6h0.1M213.7 317.8h0.1M214.7 315.0h1.9M217.6 312.2h15.5M206.0 329.1h6.8M213.7 326.3h5.8M220.5 323.5h1.0M222.4 320.6h2.9M226.3 317.8h4.8M232.1 315.0h4.8M237.9 312.2h3.9M207.9 329.1h1.0M209.9 326.3h0.1M210.8 323.5h0.1M211.8 320.6h0.1M212.8 317.8h0.1M213.7 315.0h0.1M214.7 312.2h0.1M175.1 329.1h0.1M176.1 326.3h0.1M177.0 323.5h1.0M179.0 320.6h1.0M180.9 317.8h0.1M181.9 315.0h1.9M184.8 312.2h1.9M189.6 329.1h2.9M193.5 326.3h0.1M194.4 323.5h0.1M195.4 320.6h1.9M198.3 317.8h1.0M200.2 315.0h1.9M203.1 312.2h2.9M163.5 329.1h2.9M167.4 326.3h0.1M168.3 323.5h1.9M171.2 320.6h0.1M172.2 317.8h0.1M173.2 315.0h1.0M175.1 312.2h1.0"/>
<path stroke="#1b3e65" d="M247.6 309.4h1.9M250.5 306.5h0.1M251.4 303.7h1.9M254.3 300.9h0.1M255.3 298.1h0.1M256.2 295.3h1.9M218.6 309.4h5.8M225.3 306.5h4.8M231.1 303.7h1.9M234.0 300.9h2.9M237.9 298.1h2.9M241.8 295.3h1.0M213.7 309.4h1.0M215.7 306.5h1.0M217.6 303.7h0.1M218.6 300.9h10.6M230.2 298.1h1.0M232.1 295.3h1.9M208.9 309.4h1.9M211.8 306.5h1.0M213.7 303.7h1.9M216.6 300.9h1.9M219.5 298.1h1.0M221.5 295.3h1.9M235.0 309.4h0.1M236.0 306.5h1.0M237.9 303.7h1.9M240.8 300.9h5.8M247.6 298.1h4.8M253.3 295.3h0.1M362.5 309.4h10.6M374.1 306.5h8.7M383.8 303.7h50.2M285.2 309.4h0.1M286.2 306.5h0.1M287.2 303.7h0.1M288.1 300.9h0.1M289.1 298.1h0.1M290.1 295.3h0.1M249.5 309.4h5.8M256.2 306.5h0.1M257.2 303.7h3.9M262.0 300.9h4.8M267.8 298.1h0.1M268.8 295.3h2.9M247.6 309.4h1.0M249.5 306.5h1.9M252.4 303.7h8.7M262.0 300.9h3.9M266.9 298.1h1.9M269.8 295.3h5.8M208.9 309.4h3.9M213.7 306.5h0.1M214.7 303.7h0.1M215.7 300.9h2.9M219.5 298.1h1.0M221.5 295.3h1.0M198.3 309.4h4.8M204.1 306.5h0.1M205.1 303.7h0.1M206.0 300.9h0.1M207.0 298.1h1.0M208.9 295.3h3.9M211.8 309.4h1.9M214.7 306.5h12.6M228.2 303.7h0.1M229.2 300.9h0.1M230.2 298.1h1.9M233.1 295.3h0.1M229.2 309.4h0.1M230.2 306.5h0.1M231.1 303.7h0.1M232.1 300.9h1.0M234.0 298.1h8.7M243.7 295.3h5.8M220.5 309.4h0.1M221.5 306.5h0.1M222.4 303.7h1.0M224.4 300.9h1.9M227.3 298.1h0.1M228.2 295.3h1.0M242.7 309.4h0.1M243.7 306.5h0.1M244.7 303.7h4.8M250.5 300.9h1.0M252.4 298.1h1.0M254.3 295.3h1.0M192.5 309.4h0.1M193.5 306.5h0.1M194.4 303.7h0.1M195.4 300.9h0.1M196.4 298.1h0.1M197.3 295.3h0.1M179.0 309.4h0.1M179.9 306.5h0.1M180.9 303.7h1.0M182.8 300.9h0.1M183.8 298.1h0.1M184.8 295.3h0.1M171.2 309.4h0.1M172.2 306.5h0.1M173.2 303.7h0.1M174.1 300.9h0.1M175.1 298.1h0.1M176.1 295.3h0.1M196.4 309.4h0.1M197.3 306.5h0.1M198.3 303.7h1.9M201.2 300.9h0.1M202.2 298.1h6.8M209.9 295.3h3.9M159.6 309.4h3.9M164.5 306.5h0.1M165.4 303.7h0.1M166.4 300.9h2.9M170.3 298.1h1.0M172.2 295.3h0.1M188.6 309.4h0.1M189.6 306.5h0.1M190.6 303.7h1.0M192.5 300.9h0.1M193.5 298.1h0.1M194.4 295.3h0.1M172.2 309.4h0.1M173.2 306.5h1.0M175.1 303.7h0.1M176.1 300.9h0.1M177.0 298.1h0.1M178.0 295.3h0.1M214.7 309.4h4.8M220.5 306.5h4.8M226.3 303.7h2.9M230.2 300.9h0.1M231.1 298.1h0.1M232.1 295.3h0.1M175.1 309.4h1.0M177.0 306.5h0.1M178.0 303.7h0.1M179.0 300.9h0.1M179.9 298.1h0.1M180.9 295.3h0.1M181.9 309.4h0.1M182.8 306.5h1.0M184.8 303.7h0.1M185.7 300.9h1.0M187.7 298.1h0.1M188.6 295.3h2.9M199.3 309.4h1.0M201.2 306.5h1.0M203.1 303.7h1.9M206.0 300.9h1.0M207.9 298.1h1.0M209.9 295.3h1.9M195.4 309.4h1.0M197.3 306.5h0.1M198.3 303.7h0.1M199.3 300.9h0.1M200.2 298.1h2.9M204.1 295.3h2.9M172.2 309.4h1.0M174.1 306.5h0.1M175.1 303.7h0.1M176.1 300.9h5.8M182.8 298.1h0.1M183.8 295.3h0.1M203.1 309.4h4.8M208.9 306.5h1.0M210.8 303.7h1.0M212.8 300.9h0.1M213.7 298.1h1.0M215.7 295.3h1.0M187.7 309.4h3.9M192.5 306.5h0.1M193.5 303.7h0.1M194.4 300.9h1.0M196.4 298.1h2.9M200.2 295.3h0.1M177.0 309.4h4.8M182.8 306.5h1.9M185.7 303.7h1.9M219.5 309.4h0.1M220.5 306.5h0.1M221.5 303.7h1.0M223.4 300.9h0.1M224.4 298.1h1.9M227.3 295.3h1.0M175.1 309.4h0.1M176.1 306.5h0.1M177.0 303.7h0.1M178.0 300.9h1.0M179.9 298.1h1.0M181.9 295.3h1.0M211.8 309.4h2.9M215.7 306.5h0.1M216.6 303.7h0.1M217.6 300.9h1.9M220.5 298.1h0.1M221.5 295.3h0.1M197.3 309.4h0.1M198.3 306.5h0.1M199.3 303.7h3.9M204.1 300.9h1.0M206.0 298.1h0.1M207.0 295.3h0.1M182.8 309.4h0.1M183.8 306.5h0.1M184.8 303.7h0.1M185.7 300.9h0.1M186.7 298.1h0.1M187.7 295.3h0.1M219.5 309.4h0.1M220.5 306.5h1.9M223.4 303.7h1.9M226.3 300.9h2.9M230.2 298.1h1.0M232.1 295.3h1.0M172.2 309.4h0.1M173.2 306.5h1.9M176.1 303.7h1.0M178.0 300.9h0.1M179.0 298.1h1.0M180.9 295.3h1.0M204.1 309.4h0.1M205.1 306.5h0.1M206.0 303.7h0.1M207.0 300.9h1.0M208.9 298.1h0.1M209.9 295.3h1.0M229.2 309.4h0.1M230.2 306.5h9.7M240.8 303.7h1.9M243.7 300.9h7.7M252.4 298.1h8.7M262.0 295.3h0.1M229.2 309.4h1.0M231.1 306.5h5.8M237.9 303.7h0.1M238.9 300.9h1.0M240.8 298.1h0.1M241.8 295.3h0.1M240.8 309.4h0.1M241.8 306.5h1.9M244.7 303.7h0.1M245.6 300.9h0.1M246.6 298.1h7.7M255.3 295.3h9.7M234.0 309.4h1.0M236.0 306.5h1.0M237.9 303.7h11.6M250.5 300.9h0.1M251.4 298.1h0.1M252.4 295.3h0.1M242.7 309.4h0.1M243.7 306.5h1.0M245.6 303.7h0.1M246.6 300.9h0.1M247.6 298.1h1.9M250.5 295.3h0.1M215.7 309.4h4.8M221.5 306.5h9.7M232.1 303.7h0.1M233.1 300.9h1.0M235.0 298.1h0.1M236.0 295.3h0.1M187.7 309.4h1.0M189.6 306.5h1.0M191.5 303.7h0.1M192.5 300.9h0.1M193.5 298.1h0.1M194.4 295.3h1.0M207.0 309.4h3.9M211.8 306.5h0.1M212.8 303.7h7.7M221.5 300.9h3.9M226.3 298.1h0.1M227.3 295.3h0.1M177.0 309.4h6.8M184.8 306.5h0.1M185.7 303.7h1.9"/>
<path stroke="#1d436d" d="M259.1 292.4h4.8M264.9 289.6h2.9M268.8 286.8h1.9M271.7 284.0h0.1M272.7 281.2h1.9M275.6 278.4h6.8M283.3 275.5h1.0M243.7 292.4h8.7M253.3 289.6h0.1M254.3 286.8h3.9M259.1 284.0h0.1M260.1 281.2h1.0M262.0 278.4h0.1M263.0 275.5h0.1M235.0 292.4h0.1M236.0 289.6h0.1M236.9 286.8h1.0M238.9 284.0h1.0M240.8 281.2h0.1M241.8 278.4h0.1M242.7 275.5h2.9M224.4 292.4h1.9M227.3 289.6h1.0M229.2 286.8h1.9M232.1 284.0h3.9M236.9 281.2h1.0M238.9 278.4h0.1M239.8 275.5h1.9M254.3 292.4h3.9M259.1 289.6h5.8M265.9 286.8h4.8M271.7 284.0h2.9M275.6 281.2h0.1M276.5 278.4h0.1M277.5 275.5h1.0M291.0 292.4h0.1M292.0 289.6h17.4M310.3 286.8h10.6M272.7 292.4h2.9M276.5 289.6h2.9M280.4 286.8h0.1M281.4 284.0h0.1M282.3 281.2h0.1M283.3 278.4h0.1M284.3 275.5h0.1M276.5 292.4h1.9M279.4 289.6h0.1M280.4 286.8h1.9M283.3 284.0h17.4M301.6 281.2h0.1M302.6 278.4h1.0M304.5 275.5h1.0M223.4 292.4h0.1M224.4 289.6h0.1M225.3 286.8h0.1M226.3 284.0h1.0M228.2 281.2h2.9M232.1 278.4h0.1M233.1 275.5h0.1M213.7 292.4h1.9M216.6 289.6h7.7M225.3 286.8h1.0M227.3 284.0h1.0M229.2 281.2h0.1M230.2 278.4h2.9M234.0 275.5h0.1M234.0 292.4h1.0M236.0 289.6h0.1M236.9 286.8h1.9M239.8 284.0h3.9M244.7 281.2h0.1M245.6 278.4h0.1M246.6 275.5h0.1M250.5 292.4h0.1M251.4 289.6h0.1M252.4 286.8h1.0M254.3 284.0h0.1M255.3 281.2h0.1M256.2 278.4h0.1M257.2 275.5h0.1M230.2 292.4h1.9M233.1 289.6h1.0M235.0 286.8h1.0M236.9 284.0h0.1M237.9 281.2h1.0M239.8 278.4h1.9M242.7 275.5h1.0M256.2 292.4h8.7M265.9 289.6h0.1M266.9 286.8h2.9M270.7 284.0h3.9M275.6 281.2h0.1M276.5 278.4h1.0M278.5 275.5h3.9M198.3 292.4h0.1M199.3 289.6h0.1M200.2 286.8h0.1M201.2 284.0h1.0M203.1 281.2h3.9M207.9 278.4h2.9M211.8 275.5h1.9M185.7 292.4h0.1M186.7 289.6h0.1M187.7 286.8h1.0M189.6 284.0h0.1M177.0 292.4h1.9M179.9 289.6h0.1M180.9 286.8h0.1M181.9 284.0h0.1M182.8 281.2h0.1M183.8 278.4h0.1M184.8 275.5h0.1M214.7 292.4h0.1M215.7 289.6h0.1M216.6 286.8h1.0M218.6 284.0h1.0M220.5 281.2h1.0M222.4 278.4h0.1M223.4 275.5h0.1M173.2 292.4h0.1M174.1 289.6h0.1M175.1 286.8h0.1M176.1 284.0h0.1M177.0 281.2h7.7M185.7 278.4h1.0M187.7 275.5h1.0M195.4 292.4h0.1M196.4 289.6h1.0M198.3 286.8h0.1M199.3 284.0h4.8M205.1 281.2h1.0M207.0 278.4h0.1M207.9 275.5h0.1M179.0 292.4h0.1M179.9 289.6h1.0M181.9 286.8h2.9M185.7 284.0h0.1M186.7 281.2h1.9M189.6 278.4h1.0M191.5 275.5h1.0M233.1 292.4h0.1M234.0 289.6h0.1M235.0 286.8h2.9M238.9 284.0h0.1M239.8 281.2h0.1M240.8 278.4h1.0M242.7 275.5h4.8M181.9 292.4h0.1M182.8 289.6h0.1M183.8 286.8h0.1M184.8 284.0h0.1M185.7 281.2h4.8M191.5 278.4h0.1M192.5 275.5h0.1M192.5 292.4h1.9M195.4 289.6h0.1M196.4 286.8h4.8M202.2 284.0h2.9M206.0 281.2h0.1M207.0 278.4h0.1M207.9 275.5h0.1M212.8 292.4h6.8M220.5 289.6h0.1M221.5 286.8h0.1M222.4 284.0h0.1M223.4 281.2h0.1M224.4 278.4h1.0M226.3 275.5h1.9M207.9 292.4h1.0M209.9 289.6h4.8M215.7 286.8h0.1M216.6 284.0h0.1M217.6 281.2h0.1M218.6 278.4h1.9M221.5 275.5h1.0M184.8 292.4h1.0M186.7 289.6h0.1M187.7 286.8h0.1M188.6 284.0h0.1M217.6 292.4h1.0M219.5 289.6h5.8M226.3 286.8h5.8M233.1 284.0h1.9M236.0 281.2h1.9M238.9 278.4h1.9M241.8 275.5h0.1M201.2 292.4h4.8M207.0 289.6h0.1M207.9 286.8h4.8M213.7 284.0h0.1M214.7 281.2h0.1M215.7 278.4h1.0M217.6 275.5h1.0M229.2 292.4h2.9M233.1 289.6h1.9M236.0 286.8h0.1M236.9 284.0h0.1M237.9 281.2h0.1M238.9 278.4h0.1M239.8 275.5h0.1M183.8 292.4h1.9M186.7 289.6h1.0M188.6 286.8h0.1M189.6 284.0h1.0M191.5 281.2h1.0M193.5 278.4h0.1M194.4 275.5h0.1M222.4 292.4h0.1M223.4 289.6h0.1M224.4 286.8h0.1M225.3 284.0h0.1M226.3 281.2h0.1M227.3 278.4h1.0M229.2 275.5h0.1M207.9 292.4h0.1M208.9 289.6h0.1M209.9 286.8h0.1M210.8 284.0h0.1M211.8 281.2h1.0M213.7 278.4h1.9M216.6 275.5h4.8M188.6 292.4h1.9M191.5 289.6h0.1M192.5 286.8h0.1M193.5 284.0h1.0M195.4 281.2h2.9M199.3 278.4h0.1M200.2 275.5h1.9M234.0 292.4h2.9M237.9 289.6h0.1M238.9 286.8h0.1M239.8 284.0h1.0M241.8 281.2h0.1M242.7 278.4h1.0M244.7 275.5h2.9M182.8 292.4h1.0M184.8 289.6h12.6M198.3 286.8h0.1M199.3 284.0h0.1M200.2 281.2h1.9M203.1 278.4h2.9M207.0 275.5h0.1M211.8 292.4h19.3M232.1 289.6h1.9M235.0 286.8h0.1M236.0 284.0h1.0M237.9 281.2h2.9M241.8 278.4h0.1M242.7 275.5h0.1M263.0 292.4h1.0M264.9 289.6h3.9M269.8 286.8h2.9M273.6 284.0h2.9M277.5 281.2h9.7M288.1 278.4h1.0M242.7 292.4h0.1M243.7 289.6h0.1M244.7 286.8h5.8M251.4 284.0h1.0M253.3 281.2h0.1M254.3 278.4h0.1M255.3 275.5h0.1M265.9 292.4h1.0M267.8 289.6h1.9M270.7 286.8h0.1M271.7 284.0h1.0M273.6 281.2h0.1M274.6 278.4h0.1M275.6 275.5h1.0M253.3 292.4h0.1M254.3 289.6h1.0M256.2 286.8h1.0M258.2 284.0h0.1M259.1 281.2h0.1M260.1 278.4h1.0M262.0 275.5h0.1M251.4 292.4h10.6M263.0 289.6h0.1M264.0 286.8h5.8M270.7 284.0h0.1M271.7 281.2h3.9M236.9 292.4h1.0M238.9 289.6h7.7M247.6 286.8h1.0M249.5 284.0h0.1M196.4 292.4h1.0M198.3 289.6h2.9M202.2 286.8h0.1M203.1 284.0h1.0M205.1 281.2h0.1M206.0 278.4h1.0M207.9 275.5h1.0M228.2 292.4h1.9M231.1 289.6h1.0M233.1 286.8h0.1M234.0 284.0h1.0M236.0 281.2h0.1M236.9 278.4h0.1M237.9 275.5h0.1"/>
<path stroke="#1f4775" d="M285.2 272.7h1.9M288.1 269.9h8.7M297.8 267.1h0.1M298.8 264.3h0.1M299.7 261.4h0.1M300.7 258.6h5.8M307.4 255.8h1.0M264.0 272.7h0.1M264.9 269.9h1.9M267.8 267.1h0.1M268.8 264.3h1.0M270.7 261.4h0.1M271.7 258.6h0.1M272.7 255.8h1.9M246.6 272.7h0.1M247.6 269.9h2.9M251.4 267.1h6.8M259.1 264.3h1.0M261.1 261.4h4.8M266.9 258.6h3.9M271.7 255.8h0.1M242.7 272.7h1.0M244.7 269.9h8.7M254.3 267.1h1.9M257.2 264.3h0.1M258.2 261.4h3.9M263.0 258.6h0.1M264.0 255.8h1.0M279.4 272.7h5.8M286.2 269.9h2.9M290.1 267.1h0.1M291.0 264.3h1.0M293.0 261.4h0.1M293.9 258.6h0.1M294.9 255.8h1.0M285.2 272.7h1.0M287.2 269.9h8.7M296.8 267.1h2.9M300.7 264.3h2.9M304.5 261.4h1.0M306.5 258.6h5.8M313.2 255.8h2.9M306.5 272.7h0.1M307.4 269.9h0.1M308.4 267.1h1.9M311.3 264.3h2.9M315.2 261.4h1.0M317.1 258.6h1.9M320.0 255.8h1.0M234.0 272.7h0.1M235.0 269.9h0.1M236.0 267.1h0.1M236.9 264.3h1.0M238.9 261.4h0.1M239.8 258.6h1.0M241.8 255.8h1.9M235.0 272.7h1.0M236.9 269.9h1.0M238.9 267.1h0.1M239.8 264.3h0.1M240.8 261.4h0.1M241.8 258.6h1.9M244.7 255.8h7.7M247.6 272.7h3.9M252.4 269.9h0.1M253.3 267.1h1.0M255.3 264.3h0.1M256.2 261.4h0.1M257.2 258.6h0.1M258.2 255.8h0.1M258.2 272.7h2.9M262.0 269.9h0.1M263.0 267.1h2.9M266.9 264.3h0.1M267.8 261.4h0.1M268.8 258.6h0.1M269.8 255.8h3.9M244.7 272.7h1.9M247.6 269.9h3.9M252.4 267.1h1.0M254.3 264.3h0.1M255.3 261.4h0.1M256.2 258.6h1.0M258.2 255.8h0.1M283.3 272.7h0.1M284.3 269.9h0.1M285.2 267.1h2.9M289.1 264.3h0.1M290.1 261.4h0.1M291.0 258.6h0.1M292.0 255.8h0.1M214.7 272.7h1.0M216.6 269.9h4.8M222.4 267.1h1.0M224.4 264.3h1.0M226.3 261.4h3.9M231.1 258.6h0.1M232.1 255.8h2.9M185.7 272.7h0.1M186.7 269.9h0.1M187.7 267.1h2.9M191.5 264.3h4.8M197.3 261.4h0.1M198.3 258.6h1.0M200.2 255.8h2.9M224.4 272.7h1.9M227.3 269.9h1.0M229.2 267.1h0.1M230.2 264.3h0.1M231.1 261.4h1.0M233.1 258.6h4.8M238.9 255.8h2.9M189.6 272.7h0.1M190.6 269.9h0.1M191.5 267.1h1.9M194.4 264.3h3.9M199.3 261.4h0.1M200.2 258.6h0.1M201.2 255.8h1.0M208.9 272.7h1.0M210.8 269.9h0.1M211.8 267.1h0.1M212.8 264.3h0.1M213.7 261.4h1.0M215.7 258.6h1.0M217.6 255.8h0.1M193.5 272.7h0.1M194.4 269.9h0.1M195.4 267.1h0.1M196.4 264.3h1.0M198.3 261.4h0.1M199.3 258.6h1.0M201.2 255.8h1.0M248.5 272.7h0.1M249.5 269.9h2.9M253.3 267.1h1.9M256.2 264.3h0.1M257.2 261.4h0.1M258.2 258.6h0.1M259.1 255.8h0.1M193.5 272.7h1.9M196.4 269.9h1.0M198.3 267.1h1.0M200.2 264.3h0.1M201.2 261.4h0.1M202.2 258.6h1.0M204.1 255.8h2.9M208.9 272.7h1.0M210.8 269.9h0.1M211.8 267.1h0.1M212.8 264.3h0.1M213.7 261.4h0.1M214.7 258.6h0.1M215.7 255.8h0.1M229.2 272.7h4.8M235.0 269.9h10.6M246.6 267.1h1.0M248.5 264.3h1.9M251.4 261.4h0.1M252.4 258.6h0.1M253.3 255.8h0.1M223.4 272.7h0.1M224.4 269.9h1.9M227.3 267.1h0.1M228.2 264.3h4.8M234.0 261.4h0.1M235.0 258.6h1.0M236.9 255.8h1.0M242.7 272.7h3.9M247.6 269.9h0.1M248.5 267.1h0.1M249.5 264.3h0.1M250.5 261.4h0.1M251.4 258.6h2.9M255.3 255.8h1.0M219.5 272.7h1.0M221.5 269.9h4.8M227.3 267.1h0.1M228.2 264.3h0.1M229.2 261.4h5.8M236.0 258.6h3.9M240.8 255.8h0.1M240.8 272.7h1.9M243.7 269.9h1.0M245.6 267.1h1.9M248.5 264.3h1.9M251.4 261.4h1.0M253.3 258.6h1.9M256.2 255.8h1.0M195.4 272.7h0.1M196.4 269.9h3.9M201.2 267.1h1.0M203.1 264.3h1.0M205.1 261.4h0.1M206.0 258.6h0.1M207.0 255.8h2.9M230.2 272.7h0.1M231.1 269.9h0.1M232.1 267.1h1.0M234.0 264.3h1.9M236.9 261.4h6.8M244.7 258.6h0.1M245.6 255.8h0.1M222.4 272.7h0.1M223.4 269.9h3.9M228.2 267.1h0.1M229.2 264.3h0.1M230.2 261.4h0.1M231.1 258.6h0.1M232.1 255.8h1.0M203.1 272.7h1.0M205.1 269.9h1.0M207.0 267.1h0.1M207.9 264.3h0.1M208.9 261.4h4.8M214.7 258.6h1.0M216.6 255.8h2.9M248.5 272.7h7.7M257.2 269.9h1.9M260.1 267.1h5.8M266.9 264.3h0.1M267.8 261.4h0.1M268.8 258.6h1.0M270.7 255.8h3.9M207.9 272.7h5.8M214.7 269.9h0.1M215.7 267.1h0.1M243.7 272.7h1.9M246.6 269.9h0.1M247.6 267.1h1.0M249.5 264.3h2.9M253.3 261.4h2.9M257.2 258.6h0.1M258.2 255.8h7.7M256.2 272.7h3.9M261.1 269.9h0.1M262.0 267.1h0.1M263.0 264.3h1.0M264.9 261.4h1.0M266.9 258.6h1.0M268.8 255.8h2.9M277.5 272.7h2.9M281.4 269.9h2.9M285.2 267.1h1.9M288.1 264.3h4.8M293.9 261.4h2.9M297.8 258.6h0.1M298.8 255.8h11.6M263.0 272.7h0.1M264.0 269.9h0.1M264.9 267.1h0.1M265.9 264.3h0.1M266.9 261.4h0.1M267.8 258.6h1.9M270.7 255.8h2.9M209.9 272.7h0.1M210.8 269.9h4.8M216.6 267.1h0.1M217.6 264.3h0.1M218.6 261.4h0.1M219.5 258.6h0.1M220.5 255.8h1.0M238.9 272.7h0.1M239.8 269.9h2.9M243.7 267.1h6.8M251.4 264.3h3.9M256.2 261.4h0.1M257.2 258.6h2.9M261.1 255.8h1.9"/>
<path stroke="#214c7e" d="M309.4 253.0h2.9M313.2 250.2h0.1M314.2 247.3h4.8M320.0 244.5h0.1M321.0 241.7h2.9M324.8 238.9h2.9M328.7 236.1h0.1M275.6 253.0h3.9M280.4 250.2h1.9M283.3 247.3h0.1M284.3 244.5h1.0M286.2 241.7h7.7M294.9 238.9h0.1M295.9 236.1h0.1M272.7 253.0h0.1M273.6 250.2h6.8M281.4 247.3h3.9M286.2 244.5h1.0M288.1 241.7h0.1M289.1 238.9h1.0M291.0 236.1h2.9M265.9 253.0h4.8M271.7 250.2h1.9M274.6 247.3h3.9M279.4 244.5h1.0M281.4 241.7h1.9M284.3 238.9h0.1M285.2 236.1h1.0M296.8 253.0h0.1M297.8 250.2h5.8M304.5 247.3h3.9M309.4 244.5h15.5M325.8 241.7h1.9M328.7 238.9h1.0M330.6 236.1h1.0M317.1 253.0h1.0M319.0 250.2h1.0M321.0 247.3h5.8M327.7 244.5h1.0M329.7 241.7h1.0M331.6 238.9h1.0M333.5 236.1h0.1M321.9 253.0h0.1M322.9 250.2h0.1M323.9 247.3h0.1M324.8 244.5h0.1M325.8 241.7h0.1M326.8 238.9h0.1M327.7 236.1h1.9M244.7 253.0h0.1M245.6 250.2h0.1M246.6 247.3h0.1M247.6 244.5h2.9M251.4 241.7h11.6M264.0 238.9h0.1M264.9 236.1h0.1M253.3 253.0h0.1M254.3 250.2h1.9M257.2 247.3h1.9M260.1 244.5h0.1M261.1 241.7h0.1M262.0 238.9h1.0M264.0 236.1h0.1M259.1 253.0h1.0M261.1 250.2h1.9M264.0 247.3h1.0M265.9 244.5h6.8M273.6 241.7h4.8M279.4 238.9h5.8M286.2 236.1h0.1M274.6 253.0h1.0M276.5 250.2h0.1M277.5 247.3h1.0M279.4 244.5h2.9M283.3 241.7h0.1M284.3 238.9h2.9M288.1 236.1h2.9M259.1 253.0h2.9M263.0 250.2h0.1M264.0 247.3h0.1M264.9 244.5h1.0M266.9 241.7h1.0M268.8 238.9h1.0M270.7 236.1h1.9M293.0 253.0h0.1M293.9 250.2h0.1M294.9 247.3h1.9M297.8 244.5h0.1M298.8 241.7h1.0M300.7 238.9h18.4M320.0 236.1h2.9M236.0 253.0h0.1M236.9 250.2h0.1M237.9 247.3h0.1M238.9 244.5h0.1M239.8 241.7h1.0M241.8 238.9h0.1M242.7 236.1h0.1M204.1 253.0h0.1M205.1 250.2h1.0M207.0 247.3h0.1M207.9 244.5h0.1M208.9 241.7h0.1M209.9 238.9h0.1M210.8 236.1h0.1M242.7 253.0h1.0M244.7 250.2h1.9M247.6 247.3h1.0M249.5 244.5h4.8M255.3 241.7h0.1M256.2 238.9h0.1M257.2 236.1h0.1M203.1 253.0h0.1M204.1 250.2h2.9M218.6 253.0h0.1M219.5 250.2h1.9M222.4 247.3h3.9M227.3 244.5h0.1M228.2 241.7h0.1M229.2 238.9h0.1M230.2 236.1h0.1M203.1 253.0h7.7M211.8 250.2h1.0M213.7 247.3h1.9M216.6 244.5h0.1M217.6 241.7h1.9M220.5 238.9h0.1M221.5 236.1h0.1M260.1 253.0h0.1M261.1 250.2h2.9M264.9 247.3h0.1M265.9 244.5h1.0M267.8 241.7h0.1M268.8 238.9h0.1M269.8 236.1h0.1M207.9 253.0h7.7M216.6 250.2h1.0M218.6 247.3h3.9M223.4 244.5h2.9M227.3 241.7h0.1M228.2 238.9h0.1M229.2 236.1h1.9M216.6 253.0h0.1M217.6 250.2h0.1M218.6 247.3h0.1M219.5 244.5h0.1M220.5 241.7h0.1M221.5 238.9h0.1M222.4 236.1h0.1M254.3 253.0h2.9M258.2 250.2h1.9M261.1 247.3h0.1M262.0 244.5h0.1M263.0 241.7h1.9M265.9 238.9h0.1M266.9 236.1h1.0M238.9 253.0h2.9M242.7 250.2h1.0M244.7 247.3h0.1M245.6 244.5h1.0M247.6 241.7h0.1M248.5 238.9h1.0M250.5 236.1h2.9M257.2 253.0h3.9M262.0 250.2h7.7M270.7 247.3h1.9M273.6 244.5h0.1M274.6 241.7h0.1M275.6 238.9h3.9M280.4 236.1h1.9M241.8 253.0h1.9M244.7 250.2h1.0M246.6 247.3h0.1M247.6 244.5h5.8M254.3 241.7h0.1M255.3 238.9h1.0M257.2 236.1h0.1M258.2 253.0h1.0M260.1 250.2h1.0M262.0 247.3h0.1M263.0 244.5h1.9M265.9 241.7h0.1M266.9 238.9h2.9M270.7 236.1h0.1M210.8 253.0h0.1M211.8 250.2h1.0M213.7 247.3h1.0M215.7 244.5h1.9M218.6 241.7h4.8M224.4 238.9h4.8M230.2 236.1h0.1M246.6 253.0h0.1M247.6 250.2h0.1M248.5 247.3h1.9M251.4 244.5h1.9M254.3 241.7h1.9M257.2 238.9h1.0M259.1 236.1h1.0M234.0 253.0h1.0M236.0 250.2h4.8M241.8 247.3h3.9M246.6 244.5h2.9M250.5 241.7h0.1M251.4 238.9h0.1M252.4 236.1h0.1M220.5 253.0h6.8M228.2 250.2h1.0M230.2 247.3h1.0M232.1 244.5h0.1M233.1 241.7h0.1M234.0 238.9h1.0M236.0 236.1h0.1M275.6 253.0h0.1M276.5 250.2h0.1M277.5 247.3h2.9M281.4 244.5h0.1M282.3 241.7h0.1M283.3 238.9h2.9M287.2 236.1h5.8M266.9 253.0h1.0M268.8 250.2h16.4M286.2 247.3h0.1M287.2 244.5h1.0M289.1 241.7h1.0M291.0 238.9h1.0M293.0 236.1h0.1M272.7 253.0h4.8M278.5 250.2h1.0M280.4 247.3h4.8M286.2 244.5h1.0M288.1 241.7h0.1M289.1 238.9h0.1M311.3 253.0h6.8M319.0 250.2h0.1M320.0 247.3h1.0M321.9 244.5h0.1M322.9 241.7h1.0M324.8 238.9h1.0M326.8 236.1h0.1M274.6 253.0h1.0M276.5 250.2h0.1M277.5 247.3h3.9M282.3 244.5h5.8M289.1 241.7h10.6M300.7 238.9h0.1M301.6 236.1h0.1M222.4 253.0h0.1M223.4 250.2h0.1M224.4 247.3h0.1M225.3 244.5h0.1M226.3 241.7h0.1M227.3 238.9h0.1M228.2 236.1h0.1M264.0 253.0h0.1M264.9 250.2h0.1M265.9 247.3h0.1M266.9 244.5h0.1M267.8 241.7h0.1M268.8 238.9h0.1M269.8 236.1h2.9"/>
<path stroke="#245188" d="M329.7 233.2h1.9M332.6 230.4h3.9M337.4 227.6h5.8M344.2 224.8h0.1M345.1 222.0h1.0M347.1 219.2h1.0M349.0 216.3h3.9M296.8 233.2h0.1M297.8 230.4h0.1M298.8 227.6h1.0M300.7 224.8h7.7M309.4 222.0h0.1M310.3 219.2h1.0M312.3 216.3h5.8M294.9 233.2h0.1M295.9 230.4h7.7M304.5 227.6h0.1M305.5 224.8h1.0M307.4 222.0h0.1M308.4 219.2h1.0M310.3 216.3h0.1M287.2 233.2h1.0M289.1 230.4h2.9M293.0 227.6h0.1M293.9 224.8h0.1M294.9 222.0h0.1M295.9 219.2h4.8M301.6 216.3h0.1M332.6 233.2h0.1M333.5 230.4h1.0M335.5 227.6h4.8M341.3 224.8h0.1M342.2 222.0h1.9M345.1 219.2h1.9M348.0 216.3h1.0M334.5 233.2h0.1M335.5 230.4h1.0M337.4 227.6h0.1M338.4 224.8h1.0M340.3 222.0h0.1M341.3 219.2h5.8M348.0 216.3h0.1M330.6 233.2h1.0M332.6 230.4h5.8M339.3 227.6h0.1M340.3 224.8h2.9M344.2 222.0h0.1M345.1 219.2h0.1M346.1 216.3h0.1M265.9 233.2h0.1M266.9 230.4h0.1M267.8 227.6h5.8M274.6 224.8h0.1M275.6 222.0h0.1M276.5 219.2h0.1M277.5 216.3h0.1M264.9 233.2h6.8M272.7 230.4h5.8M279.4 227.6h0.1M280.4 224.8h1.9M283.3 222.0h1.0M285.2 219.2h10.6M296.8 216.3h0.1M287.2 233.2h0.1M288.1 230.4h3.9M293.0 227.6h1.0M294.9 224.8h1.0M296.8 222.0h0.1M297.8 219.2h1.0M299.7 216.3h1.0M292.0 233.2h6.8M299.7 230.4h0.1M300.7 227.6h0.1M301.6 224.8h0.1M302.6 222.0h0.1M303.6 219.2h0.1M304.5 216.3h0.1M273.6 233.2h1.9M276.5 230.4h6.8M284.3 227.6h0.1M285.2 224.8h1.0M287.2 222.0h0.1M288.1 219.2h0.1M289.1 216.3h0.1M323.9 233.2h0.1M324.8 230.4h2.9M328.7 227.6h0.1M329.7 224.8h1.0M331.6 222.0h0.1M332.6 219.2h3.9M337.4 216.3h1.0M243.7 233.2h0.1M244.7 230.4h0.1M245.6 227.6h0.1M246.6 224.8h2.9M250.5 222.0h1.9M253.3 219.2h3.9M258.2 216.3h1.0M211.8 233.2h0.1M212.8 230.4h1.0M214.7 227.6h0.1M215.7 224.8h1.0M217.6 222.0h1.0M219.5 219.2h1.0M221.5 216.3h0.1M258.2 233.2h0.1M259.1 230.4h0.1M260.1 227.6h0.1M261.1 224.8h1.9M264.0 222.0h0.1M264.9 219.2h0.1M265.9 216.3h0.1M231.1 233.2h0.1M232.1 230.4h0.1M233.1 227.6h0.1M234.0 224.8h0.1M235.0 222.0h0.1M236.0 219.2h0.1M236.9 216.3h2.9M222.4 233.2h0.1M223.4 230.4h1.0M225.3 227.6h0.1M226.3 224.8h0.1M227.3 222.0h0.1M228.2 219.2h0.1M229.2 216.3h0.1M270.7 233.2h4.8M276.5 230.4h1.9M279.4 227.6h0.1M280.4 224.8h1.0M282.3 222.0h0.1M283.3 219.2h1.0M285.2 216.3h2.9M232.1 233.2h0.1M233.1 230.4h0.1M234.0 227.6h0.1M235.0 224.8h0.1M236.0 222.0h0.1M236.9 219.2h2.9M240.8 216.3h0.1M223.4 233.2h0.1M224.4 230.4h0.1M225.3 227.6h0.1M226.3 224.8h0.1M268.8 233.2h0.1M269.8 230.4h0.1M270.7 227.6h0.1M271.7 224.8h0.1M272.7 222.0h1.0M274.6 219.2h1.0M276.5 216.3h1.0M254.3 233.2h0.1M255.3 230.4h0.1M256.2 227.6h1.9M259.1 224.8h0.1M260.1 222.0h1.0M262.0 219.2h0.1M263.0 216.3h0.1M283.3 233.2h0.1M284.3 230.4h0.1M285.2 227.6h1.0M287.2 224.8h0.1M288.1 222.0h0.1M289.1 219.2h1.9M292.0 216.3h1.9M258.2 233.2h0.1M259.1 230.4h0.1M260.1 227.6h5.8M266.9 224.8h0.1M267.8 222.0h1.0M269.8 219.2h1.9M272.7 216.3h0.1M271.7 233.2h0.1M272.7 230.4h1.0M274.6 227.6h1.0M276.5 224.8h1.0M278.5 222.0h0.1M279.4 219.2h1.0M281.4 216.3h1.0M231.1 233.2h1.9M234.0 230.4h0.1M235.0 227.6h1.0M236.9 224.8h0.1M261.1 233.2h1.9M264.0 230.4h1.9M266.9 227.6h1.0M268.8 224.8h4.8M274.6 222.0h1.0M276.5 219.2h1.0M278.5 216.3h0.1M253.3 233.2h0.1M254.3 230.4h0.1M255.3 227.6h1.0M257.2 224.8h1.0M259.1 222.0h1.0M261.1 219.2h4.8M266.9 216.3h1.9M236.9 233.2h0.1M237.9 230.4h1.0M239.8 227.6h0.1M240.8 224.8h0.1M241.8 222.0h0.1M242.7 219.2h0.1M293.9 233.2h1.0M293.9 233.2h1.0M295.9 230.4h0.1M296.8 227.6h3.9M301.6 224.8h2.9M305.5 222.0h0.1M306.5 219.2h2.9M310.3 216.3h0.1M327.7 233.2h0.1M328.7 230.4h0.1M329.7 227.6h0.1M229.2 233.2h0.1M230.2 230.4h0.1M231.1 227.6h0.1M232.1 224.8h0.1M233.1 222.0h0.1M234.0 219.2h0.1M235.0 216.3h1.0M273.6 233.2h0.1M274.6 230.4h3.9M279.4 227.6h0.1M280.4 224.8h0.1M281.4 222.0h2.9M285.2 219.2h0.1"/>
<path stroke="#275691" d="M353.8 213.5h2.9M357.7 210.7h1.9M319.0 213.5h9.7M329.7 210.7h1.0M331.6 207.9h1.0M333.5 205.1h4.8M339.3 202.2h0.1M340.3 199.4h0.1M311.3 213.5h1.9M314.2 210.7h1.0M316.1 207.9h0.1M317.1 205.1h0.1M318.1 202.2h0.1M319.0 199.4h0.1M302.6 213.5h0.1M303.6 210.7h0.1M304.5 207.9h0.1M305.5 205.1h0.1M306.5 202.2h0.1M307.4 199.4h1.0M349.9 213.5h0.1M350.9 210.7h0.1M351.9 207.9h0.1M352.8 205.1h3.9M357.7 202.2h0.1M358.6 199.4h0.1M349.0 213.5h0.1M349.9 210.7h1.0M351.9 207.9h1.0M353.8 205.1h0.1M354.8 202.2h0.1M355.7 199.4h1.9M347.1 213.5h0.1M348.0 210.7h0.1M349.0 207.9h0.1M349.9 205.1h0.1M350.9 202.2h0.1M351.9 199.4h0.1M278.5 213.5h1.0M280.4 210.7h0.1M281.4 207.9h0.1M282.3 205.1h1.0M284.3 202.2h8.7M293.9 199.4h0.1M297.8 213.5h1.0M299.7 210.7h1.0M301.6 207.9h1.0M303.6 205.1h2.9M307.4 202.2h0.1M308.4 199.4h0.1M301.6 213.5h0.1M302.6 210.7h11.6M315.2 207.9h0.1M316.1 205.1h0.1M317.1 202.2h1.0M319.0 199.4h3.9M305.5 213.5h0.1M306.5 210.7h0.1M307.4 207.9h0.1M308.4 205.1h1.0M310.3 202.2h0.1M311.3 199.4h1.9M290.1 213.5h0.1M291.0 210.7h1.9M293.9 207.9h1.9M296.8 205.1h1.9M299.7 202.2h0.1M300.7 199.4h1.0M339.3 213.5h1.0M341.3 210.7h0.1M342.2 207.9h3.9M347.1 205.1h0.1M348.0 202.2h1.0M349.9 199.4h2.9M260.1 213.5h4.8M265.9 210.7h0.1M266.9 207.9h0.1M267.8 205.1h0.1M268.8 202.2h0.1M269.8 199.4h0.1M222.4 213.5h1.0M224.4 210.7h0.1M225.3 207.9h1.9M266.9 213.5h1.0M268.8 210.7h0.1M269.8 207.9h1.9M272.7 205.1h5.8M279.4 202.2h0.1M280.4 199.4h1.0M240.8 213.5h0.1M241.8 210.7h0.1M242.7 207.9h0.1M243.7 205.1h1.0M245.6 202.2h1.0M247.6 199.4h0.1M230.2 213.5h0.1M231.1 210.7h3.9M236.0 207.9h1.0M237.9 205.1h0.1M238.9 202.2h2.9M242.7 199.4h0.1M289.1 213.5h0.1M290.1 210.7h0.1M291.0 207.9h0.1M292.0 205.1h0.1M293.0 202.2h0.1M293.9 199.4h0.1M241.8 213.5h0.1M242.7 210.7h0.1M243.7 207.9h0.1M244.7 205.1h1.0M246.6 202.2h1.0M278.5 213.5h1.0M280.4 210.7h1.9M283.3 207.9h0.1M284.3 205.1h0.1M285.2 202.2h0.1M286.2 199.4h0.1M264.0 213.5h0.1M264.9 210.7h0.1M265.9 207.9h0.1M266.9 205.1h0.1M267.8 202.2h1.0M269.8 199.4h2.9M294.9 213.5h0.1M295.9 210.7h1.0M297.8 207.9h0.1M298.8 205.1h0.1M299.7 202.2h1.9M302.6 199.4h0.1M273.6 213.5h0.1M274.6 210.7h0.1M275.6 207.9h0.1M276.5 205.1h0.1M277.5 202.2h0.1M278.5 199.4h0.1M283.3 213.5h1.0M285.2 210.7h1.0M287.2 207.9h1.0M289.1 205.1h1.0M291.0 202.2h1.0M293.0 199.4h0.1M279.4 213.5h1.0M281.4 210.7h1.0M283.3 207.9h4.8M289.1 205.1h8.7M298.8 202.2h1.0M300.7 199.4h0.1M269.8 213.5h2.9M273.6 210.7h0.1M274.6 207.9h0.1M275.6 205.1h1.0M277.5 202.2h1.0M279.4 199.4h0.1M311.3 213.5h2.9M315.2 210.7h0.1M316.1 207.9h0.1M317.1 205.1h0.1M318.1 202.2h2.9M236.9 213.5h0.1M237.9 210.7h0.1M238.9 207.9h0.1M239.8 205.1h1.0M241.8 202.2h0.1M242.7 199.4h5.8"/>
<path stroke="#285a99" d="M360.6 193.8h17.4M378.9 191.0h16.4M396.3 188.1h6.8M404.0 185.3h5.8M410.8 182.5h0.1M411.8 179.7h1.0M341.3 196.6h0.1M342.2 193.8h0.1M343.2 191.0h1.0M345.1 188.1h0.1M346.1 185.3h3.9M350.9 182.5h7.7M359.6 179.7h1.9M320.0 196.6h1.9M322.9 193.8h1.0M324.8 191.0h8.7M334.5 188.1h1.0M336.4 185.3h2.9M340.3 182.5h0.1M341.3 179.7h4.8M309.4 196.6h1.0M311.3 193.8h1.0M313.2 191.0h1.0M315.2 188.1h0.1M316.1 185.3h1.0M318.1 182.5h1.0M320.0 179.7h1.9M359.6 196.6h1.0M361.5 193.8h0.1M362.5 191.0h2.9M366.4 188.1h0.1M367.3 185.3h0.1M368.3 182.5h0.1M369.3 179.7h0.1M358.6 196.6h1.0M360.6 193.8h1.0M362.5 191.0h0.1M363.5 188.1h0.1M364.4 185.3h0.1M365.4 182.5h0.1M366.4 179.7h0.1M352.8 196.6h1.9M355.7 193.8h1.0M357.7 191.0h0.1M358.6 188.1h0.1M359.6 185.3h0.1M360.6 182.5h0.1M361.5 179.7h1.0M294.9 196.6h0.1M295.9 193.8h0.1M296.8 191.0h1.0M298.8 188.1h0.1M299.7 185.3h0.1M300.7 182.5h1.0M302.6 179.7h1.0M309.4 196.6h0.1M310.3 193.8h0.1M311.3 191.0h0.1M312.3 188.1h0.1M313.2 185.3h0.1M314.2 182.5h0.1M315.2 179.7h0.1M323.9 196.6h0.1M324.8 193.8h0.1M325.8 191.0h0.1M326.8 188.1h2.9M330.6 185.3h1.0M332.6 182.5h1.0M334.5 179.7h1.9M314.2 196.6h1.0M316.1 193.8h1.0M318.1 191.0h2.9M321.9 188.1h0.1M322.9 185.3h1.9M325.8 182.5h1.0M327.7 179.7h0.1M302.6 196.6h0.1M303.6 193.8h1.0M305.5 191.0h0.1M306.5 188.1h1.0M308.4 185.3h2.9M312.3 182.5h1.9M315.2 179.7h1.0M353.8 196.6h0.1M354.8 193.8h0.1M355.7 191.0h0.1M356.7 188.1h0.1M357.7 185.3h1.9M360.6 182.5h0.1M361.5 179.7h0.1M270.7 196.6h0.1M271.7 193.8h0.1M272.7 191.0h4.8M282.3 196.6h5.8M289.1 193.8h0.1M290.1 191.0h0.1M291.0 188.1h0.1M292.0 185.3h6.8M299.7 182.5h1.0M301.6 179.7h0.1M248.5 196.6h1.0M250.5 193.8h1.0M252.4 191.0h2.9M256.2 188.1h1.0M258.2 185.3h1.9M261.1 182.5h0.1M243.7 196.6h0.1M244.7 193.8h0.1M245.6 191.0h0.1M246.6 188.1h0.1M247.6 185.3h1.0M249.5 182.5h0.1M250.5 179.7h2.9M294.9 196.6h0.1M295.9 193.8h0.1M296.8 191.0h0.1M297.8 188.1h0.1M298.8 185.3h0.1M299.7 182.5h0.1M300.7 179.7h0.1M287.2 196.6h0.1M288.1 193.8h0.1M289.1 191.0h0.1M290.1 188.1h6.8M297.8 185.3h1.0M299.7 182.5h0.1M300.7 179.7h3.9M273.6 196.6h0.1M274.6 193.8h0.1M275.6 191.0h4.8M281.4 188.1h1.9M284.3 185.3h1.9M287.2 182.5h1.9M290.1 179.7h1.0M303.6 196.6h1.0M305.5 193.8h0.1M306.5 191.0h1.9M309.4 188.1h1.9M312.3 185.3h1.0M314.2 182.5h0.1M315.2 179.7h1.0M279.4 196.6h0.1M280.4 193.8h0.1M281.4 191.0h3.9M286.2 188.1h1.9M289.1 185.3h0.1M290.1 182.5h0.1M291.0 179.7h1.9M293.9 196.6h1.0M295.9 193.8h1.9M298.8 191.0h1.0M300.7 188.1h0.1M301.6 185.3h1.0M303.6 182.5h1.0M305.5 179.7h1.0M301.6 196.6h1.9M304.5 193.8h5.8M311.3 191.0h0.1M312.3 188.1h1.0M314.2 185.3h1.9M317.1 182.5h0.1M318.1 179.7h1.9M280.4 196.6h8.7M290.1 193.8h2.9M293.9 191.0h0.1M294.9 188.1h1.9M297.8 185.3h1.0M299.7 182.5h0.1M300.7 179.7h0.1M249.5 196.6h1.9M252.4 193.8h1.0M254.3 191.0h0.1M255.3 188.1h0.1M256.2 185.3h0.1M257.2 182.5h1.9M260.1 179.7h4.8"/>
<path stroke="#295da0" d="M413.7 176.9h1.9M416.6 174.0h1.0M418.5 171.2h1.9M421.4 168.4h1.0M423.4 165.6h1.9M426.3 162.8h1.9M429.2 160.0h1.9M362.5 176.9h1.0M364.4 174.0h1.0M366.4 171.2h1.9M369.3 168.4h1.0M371.2 165.6h0.1M372.2 162.8h0.1M373.1 160.0h1.0M347.1 176.9h0.1M348.0 174.0h4.8M353.8 171.2h0.1M354.8 168.4h1.0M356.7 165.6h0.1M357.7 162.8h0.1M358.6 160.0h0.1M322.9 176.9h0.1M323.9 174.0h0.1M324.8 171.2h1.9M327.7 168.4h1.0M329.7 165.6h1.9M332.6 162.8h0.1M333.5 160.0h0.1M370.2 176.9h0.1M371.2 174.0h1.0M373.1 171.2h1.0M375.1 168.4h1.0M377.0 165.6h1.0M378.9 162.8h5.8M385.7 160.0h9.7M367.3 176.9h1.0M369.3 174.0h0.1M370.2 171.2h0.1M371.2 168.4h0.1M372.2 165.6h0.1M373.1 162.8h0.1M374.1 160.0h0.1M363.5 176.9h0.1M364.4 174.0h0.1M365.4 171.2h1.0M367.3 168.4h0.1M368.3 165.6h0.1M369.3 162.8h1.0M371.2 160.0h1.0M304.5 176.9h1.9M307.4 174.0h1.0M309.4 171.2h1.9M312.3 168.4h1.9M315.2 165.6h12.6M328.7 162.8h0.1M329.7 160.0h1.0M316.1 176.9h0.1M317.1 174.0h0.1M318.1 171.2h1.0M320.0 168.4h2.9M323.9 165.6h5.8M330.6 162.8h0.1M331.6 160.0h4.8M337.4 176.9h7.7M346.1 174.0h4.8M351.9 171.2h3.9M356.7 168.4h0.1M357.7 165.6h4.8M363.5 162.8h1.0M365.4 160.0h0.1M328.7 176.9h0.1M329.7 174.0h0.1M330.6 171.2h1.0M332.6 168.4h0.1M333.5 165.6h0.1M334.5 162.8h0.1M335.5 160.0h0.1M317.1 176.9h0.1M318.1 174.0h0.1M319.0 171.2h1.0M321.0 168.4h1.0M322.9 165.6h1.0M324.8 162.8h1.9M327.7 160.0h1.0M362.5 176.9h0.1M363.5 174.0h1.0M365.4 171.2h1.0M367.3 168.4h0.1M368.3 165.6h0.1M369.3 162.8h0.1M370.2 160.0h0.1M302.6 176.9h3.9M307.4 174.0h3.9M312.3 171.2h0.1M313.2 168.4h1.0M315.2 165.6h1.0M317.1 162.8h1.9M320.0 160.0h0.1M301.6 176.9h0.1M302.6 174.0h0.1M303.6 171.2h1.0M305.5 168.4h1.0M307.4 165.6h0.1M308.4 162.8h1.0M310.3 160.0h1.0M305.5 176.9h4.8M311.3 174.0h0.1M312.3 171.2h1.0M314.2 168.4h0.1M315.2 165.6h0.1M316.1 162.8h0.1M317.1 160.0h1.0M292.0 176.9h8.7M301.6 174.0h1.9M304.5 171.2h1.0M306.5 168.4h1.0M308.4 165.6h1.9M311.3 162.8h1.0M313.2 160.0h0.1M317.1 176.9h0.1M318.1 174.0h0.1M319.0 171.2h0.1M320.0 168.4h2.9M323.9 165.6h0.1M324.8 162.8h0.1M325.8 160.0h0.1M293.9 176.9h2.9M297.8 174.0h0.1M298.8 171.2h0.1M299.7 168.4h0.1M300.7 165.6h1.0M302.6 162.8h1.0M304.5 160.0h2.9M307.4 176.9h1.0M309.4 174.0h0.1M310.3 171.2h1.0M312.3 168.4h1.0M314.2 165.6h1.9M317.1 162.8h0.1M318.1 160.0h2.9M321.0 176.9h0.1M321.9 174.0h0.1M322.9 171.2h0.1M323.9 168.4h0.1M324.8 165.6h0.1M325.8 162.8h0.1M326.8 160.0h0.1M301.6 176.9h0.1M302.6 174.0h5.8M309.4 171.2h1.0M311.3 168.4h1.9M314.2 165.6h1.9M317.1 162.8h1.9M320.0 160.0h0.1M265.9 176.9h6.8M273.6 174.0h2.9M277.5 171.2h2.9M281.4 168.4h0.1M282.3 165.6h0.1M283.3 162.8h2.9"/>
<path stroke="#2a60a7" d="M432.1 157.1h1.9M435.0 154.3h1.9M437.9 151.5h1.9M440.8 148.7h1.0M442.7 145.9h1.9M445.6 143.0h1.9M448.5 140.2h3.9M375.1 157.1h0.1M376.0 154.3h7.7M384.7 151.5h0.1M385.7 148.7h0.1M386.7 145.9h1.0M388.6 143.0h0.1M389.6 140.2h0.1M359.6 157.1h0.1M360.6 154.3h0.1M361.5 151.5h0.1M362.5 148.7h0.1M363.5 145.9h0.1M364.4 143.0h1.0M366.4 140.2h1.0M334.5 157.1h0.1M335.5 154.3h1.0M337.4 151.5h1.9M340.3 148.7h0.1M341.3 145.9h1.0M343.2 143.0h1.0M345.1 140.2h3.9M396.3 157.1h0.1M397.3 154.3h0.1M398.2 151.5h0.1M399.2 148.7h14.5M414.7 145.9h0.1M415.6 143.0h1.0M417.6 140.2h1.0M375.1 157.1h0.1M376.0 154.3h0.1M377.0 151.5h0.1M378.0 148.7h0.1M378.9 145.9h0.1M379.9 143.0h0.1M380.9 140.2h0.1M373.1 157.1h0.1M374.1 154.3h1.0M376.0 151.5h1.9M378.9 148.7h0.1M379.9 145.9h0.1M380.9 143.0h1.0M382.8 140.2h0.1M331.6 157.1h1.0M333.5 154.3h0.1M334.5 151.5h0.1M335.5 148.7h0.1M336.4 145.9h1.9M339.3 143.0h0.1M340.3 140.2h0.1M337.4 157.1h0.1M338.4 154.3h2.9M342.2 151.5h1.9M345.1 148.7h1.0M347.1 145.9h0.1M348.0 143.0h2.9M351.9 140.2h3.9M366.4 157.1h0.1M367.3 154.3h0.1M368.3 151.5h0.1M369.3 148.7h0.1M370.2 145.9h0.1M371.2 143.0h0.1M372.2 140.2h0.1M336.4 157.1h0.1M337.4 154.3h1.0M339.3 151.5h1.0M341.3 148.7h1.0M343.2 145.9h1.9M346.1 143.0h8.7M355.7 140.2h0.1M329.7 157.1h1.0M331.6 154.3h2.9M335.5 151.5h1.0M337.4 148.7h1.9M340.3 145.9h3.9M345.1 143.0h2.9M349.0 140.2h0.1M371.2 157.1h0.1M372.2 154.3h1.0M374.1 151.5h0.1M375.1 148.7h4.8M380.9 145.9h0.1M381.8 143.0h0.1M382.8 140.2h0.1M321.0 157.1h0.1M321.9 154.3h1.9M324.8 151.5h0.1M325.8 148.7h0.1M326.8 145.9h2.9M330.6 143.0h0.1M331.6 140.2h1.0M312.3 157.1h1.0M314.2 154.3h1.0M316.1 151.5h1.0M318.1 148.7h1.0M320.0 145.9h1.9M322.9 143.0h1.9M325.8 140.2h1.9M319.0 157.1h1.0M321.0 154.3h1.9M323.9 151.5h0.1M324.8 148.7h0.1M325.8 145.9h0.1M326.8 143.0h1.0M328.7 140.2h0.1M314.2 157.1h2.9M318.1 154.3h0.1M319.0 151.5h0.1M320.0 148.7h1.0M321.9 145.9h3.9M326.8 143.0h1.0M328.7 140.2h0.1M326.8 157.1h0.1M327.7 154.3h1.9M330.6 151.5h0.1M331.6 148.7h0.1M332.6 145.9h0.1M333.5 143.0h0.1M334.5 140.2h0.1M308.4 157.1h2.9M312.3 154.3h1.9M315.2 151.5h3.9M320.0 148.7h1.9M322.9 145.9h0.1M323.9 143.0h8.7M333.5 140.2h0.1M321.9 157.1h0.1M322.9 154.3h1.9M325.8 151.5h6.8M333.5 148.7h0.1M334.5 145.9h0.1M335.5 143.0h1.9M338.4 140.2h5.8M327.7 157.1h0.1M328.7 154.3h0.1M329.7 151.5h0.1M330.6 148.7h0.1M331.6 145.9h0.1M332.6 143.0h1.0M334.5 140.2h0.1M321.0 157.1h1.0M322.9 154.3h0.1M323.9 151.5h4.8M329.7 148.7h0.1M330.6 145.9h5.8M337.4 143.0h0.1M338.4 140.2h0.1"/>
<path stroke="#2b63ae" d="M453.3 137.4h2.9M457.2 134.6h2.9M461.0 131.8h2.9M464.9 128.9h1.9M467.8 126.1h1.0M469.7 123.3h1.9M472.6 120.5h1.0M390.5 137.4h0.1M391.5 134.6h3.9M396.3 131.8h0.1M397.3 128.9h0.1M398.2 126.1h2.9M402.1 123.3h1.0M404.0 120.5h1.0M368.3 137.4h1.0M370.2 134.6h1.0M372.2 131.8h1.0M374.1 128.9h1.9M377.0 126.1h0.1M378.0 123.3h1.0M379.9 120.5h1.9M349.9 137.4h2.9M353.8 134.6h2.9M357.7 131.8h0.1M358.6 128.9h0.1M419.5 137.4h1.0M421.4 134.6h0.1M422.4 131.8h1.0M424.3 128.9h1.0M426.3 126.1h11.6M438.8 123.3h1.0M440.8 120.5h4.8M381.8 137.4h0.1M382.8 134.6h0.1M383.8 131.8h1.9M386.7 128.9h1.9M389.6 126.1h0.1M390.5 123.3h0.1M391.5 120.5h0.1M383.8 137.4h1.0M385.7 134.6h1.0M387.6 131.8h0.1M388.6 128.9h1.0M390.5 126.1h0.1M391.5 123.3h1.0M393.4 120.5h1.0M341.3 137.4h0.1M342.2 134.6h1.9M345.1 131.8h1.0M347.1 128.9h3.9M351.9 126.1h3.9M356.7 123.3h2.9M360.6 120.5h2.9M356.7 137.4h1.0M358.6 134.6h1.9M361.5 131.8h0.1M362.5 128.9h0.1M363.5 126.1h0.1M364.4 123.3h1.0M366.4 120.5h2.9M373.1 137.4h0.1M374.1 134.6h0.1M375.1 131.8h0.1M376.0 128.9h1.9M378.9 126.1h0.1M379.9 123.3h0.1M380.9 120.5h0.1M356.7 137.4h3.9M361.5 134.6h0.1M362.5 131.8h0.1M363.5 128.9h0.1M364.4 126.1h1.0M366.4 123.3h0.1M367.3 120.5h0.1M349.9 137.4h0.1M350.9 134.6h3.9M355.7 131.8h0.1M356.7 128.9h1.0M358.6 126.1h0.1M359.6 123.3h0.1M360.6 120.5h0.1M383.8 137.4h1.9M386.7 134.6h1.9M389.6 131.8h1.0M391.5 128.9h0.1M392.5 126.1h0.1M393.4 123.3h0.1M394.4 120.5h0.1M328.7 137.4h1.0M330.6 134.6h3.9M329.7 137.4h1.0M331.6 134.6h1.0M333.5 131.8h0.1M335.5 137.4h0.1M336.4 134.6h0.1M337.4 131.8h0.1M338.4 128.9h0.1M339.3 126.1h0.1M340.3 123.3h0.1M334.5 137.4h1.0M336.4 134.6h0.1M345.1 137.4h1.9M348.0 134.6h1.0M349.9 131.8h1.0M335.5 137.4h0.1M336.4 134.6h1.0M338.4 131.8h0.1M339.3 128.9h1.0M341.3 126.1h0.1M342.2 123.3h2.9M339.3 137.4h2.9M343.2 134.6h1.9M346.1 131.8h0.1M347.1 128.9h0.1M348.0 126.1h0.1"/>
<path stroke="#2c67b5" d="M474.6 117.7h1.0M476.5 114.8h1.9M479.4 112.0h2.9M483.3 109.2h1.9M486.2 106.4h1.9M489.1 103.6h1.0M491.0 100.8h6.8M406.0 117.7h1.0M407.9 114.8h0.1M408.9 112.0h1.0M410.8 109.2h0.1M411.8 106.4h0.1M412.7 103.6h1.0M414.7 100.8h0.1M382.8 117.7h3.9M387.6 114.8h1.0M389.6 112.0h1.0M391.5 109.2h0.1M392.5 106.4h1.0M394.4 103.6h0.1M395.4 100.8h0.1M359.6 117.7h1.9M362.5 114.8h1.0M364.4 112.0h1.9M367.3 109.2h1.0M369.3 106.4h1.0M371.2 103.6h1.9M374.1 100.8h1.0M392.5 117.7h0.1M393.4 114.8h0.1M394.4 112.0h1.0M396.3 109.2h0.1M397.3 106.4h1.0M399.2 103.6h0.1M400.2 100.8h0.1M395.4 117.7h0.1M396.3 114.8h1.9M399.2 112.0h0.1M400.2 109.2h1.0M402.1 106.4h0.1M403.1 103.6h1.0M405.0 100.8h0.1M364.4 117.7h2.9M368.3 114.8h3.9M373.1 112.0h1.0M375.1 109.2h1.9M378.0 106.4h0.1M378.9 103.6h2.9M382.8 100.8h0.1M370.2 117.7h1.0M372.2 114.8h1.0M374.1 112.0h2.9M378.0 109.2h0.1M378.9 106.4h1.9M381.8 103.6h1.9M384.7 100.8h1.0M381.8 117.7h1.9M384.7 114.8h1.0M368.3 117.7h0.1M369.3 114.8h1.9M395.4 117.7h0.1M396.3 114.8h1.0M398.2 112.0h1.0M400.2 109.2h1.0M402.1 106.4h1.0M404.0 103.6h0.1M405.0 100.8h2.9"/>
<path stroke="#2f6ebe" d="M498.7 97.9h13.5M513.2 95.1h1.9M516.1 92.3h44.4M561.5 89.5h1.9M564.4 86.7h1.9M567.3 83.8h24.1M415.6 97.9h1.0M417.6 95.1h1.0M419.5 92.3h2.9M423.4 86.7h0.1M396.3 97.9h0.1M397.3 95.1h15.5M413.7 92.3h0.1M414.7 89.5h0.1M415.6 86.7h0.1M416.6 83.8h1.0M376.0 97.9h0.1M377.0 95.1h1.0M378.9 92.3h0.1M379.9 89.5h1.0M381.8 86.7h0.1M382.8 83.8h1.0M401.1 97.9h0.1M406.0 97.9h1.0M407.9 95.1h1.0M409.8 92.3h0.1M410.8 89.5h1.0M412.7 86.7h1.0M383.8 97.9h0.1M384.7 95.1h0.1M385.7 92.3h3.9M390.5 89.5h1.0M392.5 86.7h1.0M394.4 83.8h0.1M386.7 97.9h1.0M388.6 95.1h4.8M394.4 92.3h1.0M396.3 89.5h0.1M408.9 97.9h1.0M410.8 95.1h2.9"/>
<path stroke="#3275c7" d="M592.4 81.0h1.9M595.3 78.2h3.9M600.1 75.4h7.7M608.8 72.6h6.8M616.6 69.7h1.0M618.5 66.9h0.1M619.5 64.1h1.0M424.3 81.0h1.0M426.3 78.2h1.9M429.2 75.4h1.0M431.1 72.6h5.8M437.9 69.7h1.9M440.8 66.9h3.9M445.6 64.1h8.7M418.5 81.0h0.1M419.5 78.2h0.1M420.5 75.4h0.1M421.4 72.6h1.0M423.4 69.7h6.8M431.1 66.9h0.1M432.1 64.1h1.0M384.7 81.0h0.1M385.7 78.2h1.0M387.6 75.4h7.7M395.4 81.0h0.1M396.3 78.2h0.1M397.3 75.4h2.9M401.1 72.6h1.0"/>
<path stroke="#357dd1" d="M621.4 61.3h4.8M627.2 58.5h7.7M635.9 55.7h1.0M637.8 52.8h6.8M645.5 50.0h2.9M649.4 47.2h7.7M658.1 44.4h29.0M455.2 61.3h1.0M457.2 58.5h1.9M460.1 55.7h1.9M463.0 52.8h18.4M482.3 50.0h0.1M483.3 47.2h1.0M485.2 44.4h0.1M434.0 61.3h1.0M435.9 58.5h1.0"/>
<path stroke="#3884da" d="M688.0 41.6h9.7M698.7 38.7h0.1M699.6 35.9h7.7M708.3 33.1h2.9M486.2 41.6h0.1M487.1 38.7h0.1"/>
</g>
<polygon points="85.2,468.7 89.7,462.7 94.2,456.8 98.7,451.0 103.2,445.4 107.7,439.6 112.2,433.7 116.7,428.0 121.2,422.2 125.7,416.6 130.2,410.9 134.7,405.3 139.2,399.8 143.7,394.3 148.2,388.9 152.7,383.4 157.2,378.1 161.7,372.7 166.2,367.4 170.7,362.1 175.2,356.9 179.7,351.7 184.2,346.5 188.7,341.3 193.2,336.1 197.7,331.0 202.2,325.9 206.7,320.8 211.2,315.8 215.7,310.7 220.2,305.7 224.7,300.8 229.2,295.8 233.7,290.9 238.2,286.0 242.6,281.1 247.1,276.2 251.6,271.4 256.1,266.6 260.6,261.9 265.1,257.3 269.6,252.7 274.1,248.2 278.6,243.7 283.1,239.3 287.6,234.9 292.1,230.6 296.6,226.4 301.1,222.2 305.6,218.1 310.1,214.0 314.6,210.0 319.1,206.0 323.6,202.1 328.1,198.2 332.6,194.4 337.1,190.7 341.6,187.0 346.1,183.3 350.6,179.7 355.1,176.2 359.6,172.7 364.1,169.3 368.6,165.9 373.1,162.5 377.6,159.3 382.1,156.0 386.6,152.8 391.1,149.7 395.6,146.6 400.1,143.6 404.6,140.6 409.1,137.7 413.6,134.8 418.1,132.0 422.6,129.2 427.1,126.4 431.6,123.7 436.1,121.1 440.6,118.5 445.1,115.9 449.6,113.4 454.1,111.0 458.6,108.6 463.1,106.2 467.6,103.9 472.1,101.6 476.6,99.4 481.1,97.2 485.6,95.0 490.1,92.9 494.6,90.9 499.1,88.9 503.6,86.9 508.1,85.0 512.6,83.1 517.1,81.3 521.6,79.5 526.1,77.8 530.6,76.1 535.1,74.4 539.6,72.8 544.1,71.2 548.6,69.7 553.1,68.3 557.5,66.8 562.0,65.4 566.5,64.1 571.0,62.8 575.5,61.6 580.0,60.4 584.5,59.2 589.0,58.1 593.5,57.0 598.0,56.0 602.5,55.0 607.0,54.0 611.5,53.1 616.0,52.2 620.5,51.4 625.0,50.7 629.5,49.9 634.0,49.2 638.5,48.6 643.0,48.0 647.5,47.4 652.0,46.9 656.5,46.4 661.0,46.0 665.5,45.6 670.0,45.2 674.5,44.9 679.0,44.7 683.5,44.4 688.0,44.2 692.5,44.1 697.0,44.0 701.5,43.9 706.0,43.9 710.5,43.9 710.5,63.0 706.0,62.6 701.5,62.2 697.0,61.8 692.5,61.5 688.0,61.3 683.5,61.0 679.0,60.9 674.5,60.8 670.0,60.7 665.5,60.6 661.0,60.7 656.5,60.7 652.0,60.8 647.5,61.0 643.0,61.2 638.5,61.4 634.0,61.7 629.5,62.1 625.0,62.5 620.5,62.9 616.0,63.4 611.5,64.0 607.0,64.6 602.5,65.2 598.0,65.9 593.5,66.6 589.0,67.4 584.5,68.2 580.0,69.1 575.5,70.0 571.0,71.0 566.5,72.1 562.0,73.1 557.5,74.3 553.1,75.4 548.6,76.7 544.1,77.9 539.6,79.3 535.1,80.7 530.6,82.1 526.1,83.6 521.6,85.1 517.1,86.7 512.6,88.3 508.1,90.0 503.6,91.7 499.1,93.5 494.6,95.4 490.1,97.3 485.6,99.2 481.1,101.2 476.6,103.3 472.1,105.4 467.6,107.5 463.1,109.7 458.6,112.0 454.1,114.3 449.6,116.7 445.1,119.1 440.6,121.6 436.1,124.1 431.6,126.7 427.1,129.3 422.6,132.0 418.1,134.8 413.6,137.6 409.1,140.4 404.6,143.3 400.1,146.3 395.6,149.3 391.1,152.3 386.6,155.4 382.1,158.6 377.6,161.8 373.1,165.1 368.6,168.4 364.1,171.8 359.6,175.2 355.1,178.7 350.6,182.2 346.1,185.8 341.6,189.4 337.1,193.1 332.6,196.8 328.1,200.6 323.6,204.4 319.1,208.3 314.6,212.2 310.1,216.2 305.6,220.3 301.1,224.4 296.6,228.5 292.1,232.7 287.6,236.9 283.1,241.2 278.6,245.6 274.1,249.9 269.6,254.4 265.1,258.9 260.6,263.4 256.1,268.0 251.6,272.6 247.1,277.3 242.6,281.9 238.2,286.6 233.7,291.4 229.2,296.3 224.7,301.2 220.2,306.2 215.7,311.2 211.2,316.2 206.7,321.3 202.2,326.3 197.7,331.5 193.2,336.6 188.7,341.7 184.2,346.9 179.7,352.1 175.2,357.3 170.7,362.6 166.2,367.9 161.7,373.2 157.2,378.5 152.7,383.9 148.2,389.3 143.7,394.8 139.2,400.3 134.7,405.8 130.2,411.4 125.7,417.0 121.2,422.7 116.7,428.4 112.2,434.2 107.7,440.0 103.2,446.0 98.7,452.2 94.2,458.4 89.7,464.7 85.2,471.0" fill="#999999" fill-opacity="0.4"/>
<polyline points="85.2,469.8 89.7,463.7 94.2,457.6 98.7,451.6 103.2,445.7 107.7,439.8 112.2,434.0 116.7,428.2 121.2,422.4 125.7,416.8 130.2,411.1 134.7,405.6 139.2,400.0 143.7,394.5 148.2,389.1 152.7,383.7 157.2,378.3 161.7,372.9 166.2,367.6 170.7,362.4 175.2,357.1 179.7,351.9 184.2,346.7 188.7,341.5 193.2,336.4 197.7,331.2 202.2,326.1 206.7,321.0 211.2,316.0 215.7,311.0 220.2,306.0 224.7,301.0 229.2,296.1 233.7,291.2 238.2,286.3 242.6,281.5 247.1,276.7 251.6,272.0 256.1,267.3 260.6,262.7 265.1,258.1 269.6,253.6 274.1,249.1 278.6,244.6 283.1,240.3 287.6,235.9 292.1,231.7 296.6,227.4 301.1,223.3 305.6,219.2 310.1,215.1 314.6,211.1 319.1,207.1 323.6,203.2 328.1,199.4 332.6,195.6 337.1,191.9 341.6,188.2 346.1,184.5 350.6,181.0 355.1,177.4 359.6,173.9 364.1,170.5 368.6,167.1 373.1,163.8 377.6,160.5 382.1,157.3 386.6,154.1 391.1,151.0 395.6,148.0 400.1,144.9 404.6,142.0 409.1,139.0 413.6,136.2 418.1,133.4 422.6,130.6 427.1,127.9 431.6,125.2 436.1,122.6 440.6,120.0 445.1,117.5 449.6,115.1 454.1,112.6 458.6,110.3 463.1,108.0 467.6,105.7 472.1,103.5 476.6,101.3 481.1,99.2 485.6,97.1 490.1,95.1 494.6,93.1 499.1,91.2 503.6,89.3 508.1,87.5 512.6,85.7 517.1,84.0 521.6,82.3 526.1,80.7 530.6,79.1 535.1,77.5 539.6,76.0 544.1,74.6 548.6,73.2 553.1,71.8 557.5,70.5 562.0,69.3 566.5,68.1 571.0,66.9 575.5,65.8 580.0,64.7 584.5,63.7 589.0,62.7 593.5,61.8 598.0,60.9 602.5,60.1 607.0,59.3 611.5,58.5 616.0,57.8 620.5,57.2 625.0,56.6 629.5,56.0 634.0,55.5 638.5,55.0 643.0,54.6 647.5,54.2 652.0,53.9 656.5,53.6 661.0,53.3 665.5,53.1 670.0,53.0 674.5,52.8 679.0,52.8 683.5,52.7 688.0,52.8 692.5,52.8 697.0,52.9 701.5,53.1 706.0,53.3 710.5,53.5" fill="none" stroke="#2b42e6" stroke-width="2.4" stroke-linejoin="round"/>
<g stroke="#4d4d4d" stroke-width="2" fill="none">
<path d="M53.3 5V502M52.3 501H744"/>
<path d="M50 478.5H53M50 337.6H53M50 196.6H53M50 55.7H53" stroke-width="1.6"/>
<path d="M84.3 501V504.5M277.5 501V504.5M470.7 501V504.5M663.9 501V504.5" stroke-width="1.6"/>
</g>
<g fill="#3a3a3a" font-size="14.2" text-anchor="end">
<text x="48.2" y="484.3">0</text>
<text x="48.2" y="343.4">50</text>
<text x="48.2" y="202.4">00</text>
<text x="48.2" y="61.5">50</text>
<path d="M515 0V1237L197 1010V1180L530 1409H696V0Z" transform="translate(24.96 202.40) scale(0.006934 -0.006934)"/>
<path d="M515 0V1237L197 1010V1180L530 1409H696V0Z" transform="translate(24.96 61.50) scale(0.006934 -0.006934)"/>
</g>
<g fill="#3a3a3a" font-size="14.2" text-anchor="middle">
<text x="84.4" y="517.9">0</text>
<text x="277.5" y="517.9">200</text>
<text x="470.6" y="517.9">400</text>
<text x="663.9" y="517.9">600</text>
</g>
<text x="398.5" y="536.6" font-size="18" text-anchor="middle" fill="#000">Number of phrases recorded</text>
<text transform="translate(17.5 253.2) rotate(-90)" x="0" y="0" font-size="18" text-anchor="middle" fill="#000">Cumulative repertoire size</text>
</svg>
</body></html>
